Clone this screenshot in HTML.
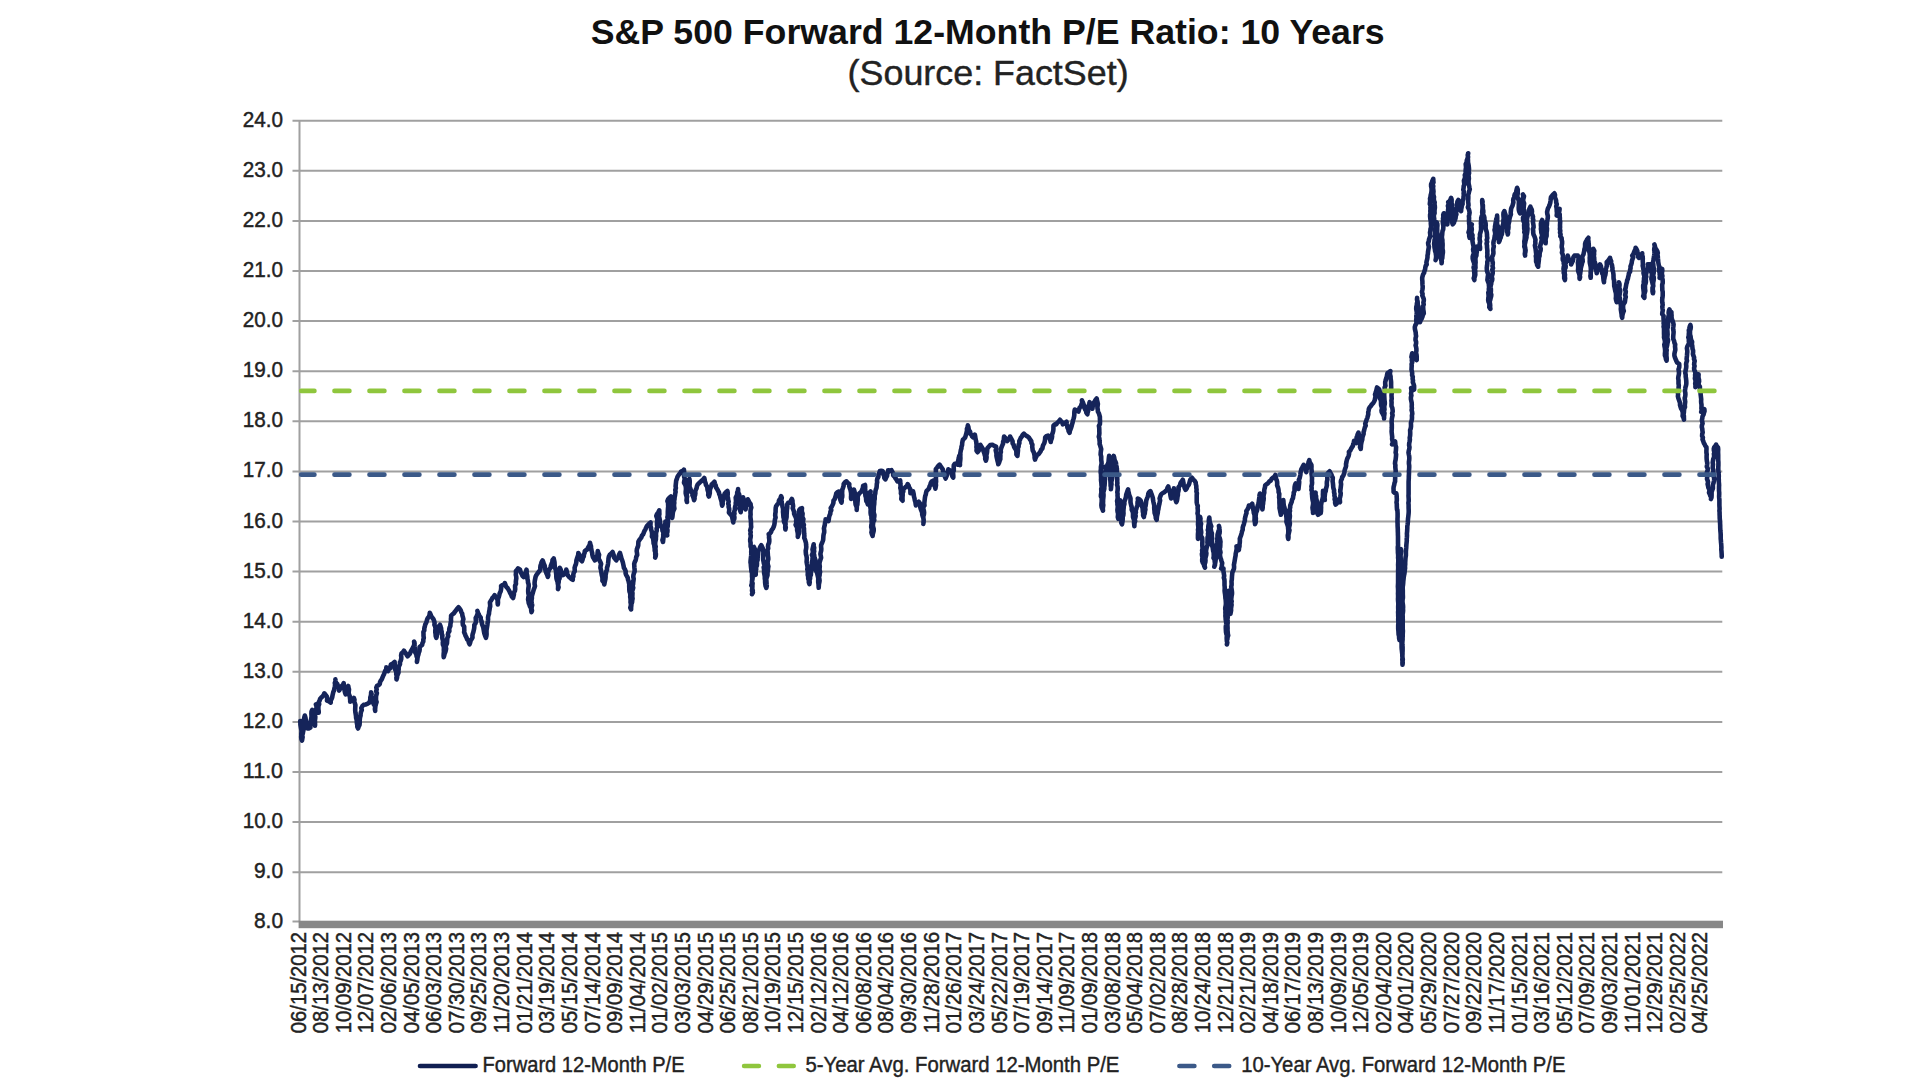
<!DOCTYPE html>
<html lang="en"><head><meta charset="utf-8"><title>S&amp;P 500 Forward 12-Month P/E Ratio: 10 Years</title>
<style>html,body{margin:0;padding:0;background:#fff}body{width:1920px;height:1080px;overflow:hidden}svg{display:block}text{font-family:"Liberation Sans",sans-serif;fill:#222}</style></head><body>
<svg width="1920" height="1080" viewBox="0 0 1920 1080">
<rect width="1920" height="1080" fill="#fff"/>
<text x="987.7" y="43.6" text-anchor="middle" font-size="35.6" font-weight="bold" textLength="794" lengthAdjust="spacingAndGlyphs" style="fill:#111">S&amp;P 500 Forward 12-Month P/E Ratio: 10 Years</text>
<text x="988.1" y="84.5" text-anchor="middle" font-size="35.3" textLength="281" lengthAdjust="spacingAndGlyphs" stroke="#222" stroke-width="0.4">(Source: FactSet)</text>
<g stroke="#a0a0a0" stroke-width="2" fill="none">
<line x1="292.5" y1="872.20" x2="1722.3" y2="872.20"/>
<line x1="292.5" y1="822.10" x2="1722.3" y2="822.10"/>
<line x1="292.5" y1="772.00" x2="1722.3" y2="772.00"/>
<line x1="292.5" y1="721.90" x2="1722.3" y2="721.90"/>
<line x1="292.5" y1="671.80" x2="1722.3" y2="671.80"/>
<line x1="292.5" y1="621.70" x2="1722.3" y2="621.70"/>
<line x1="292.5" y1="571.60" x2="1722.3" y2="571.60"/>
<line x1="292.5" y1="521.50" x2="1722.3" y2="521.50"/>
<line x1="292.5" y1="471.40" x2="1722.3" y2="471.40"/>
<line x1="292.5" y1="421.30" x2="1722.3" y2="421.30"/>
<line x1="292.5" y1="371.20" x2="1722.3" y2="371.20"/>
<line x1="292.5" y1="321.10" x2="1722.3" y2="321.10"/>
<line x1="292.5" y1="271.00" x2="1722.3" y2="271.00"/>
<line x1="292.5" y1="220.90" x2="1722.3" y2="220.90"/>
<line x1="292.5" y1="170.80" x2="1722.3" y2="170.80"/>
<line x1="292.5" y1="120.70" x2="1722.3" y2="120.70"/>
<line x1="292.5" y1="921.50" x2="300" y2="921.50"/>
<line x1="299.5" y1="119.90" x2="299.5" y2="921"/>
</g>
<rect x="298.6" y="920.7" width="1424.4" height="7.5" fill="#878787"/>
<g font-size="21.9" text-anchor="end" stroke="#222" stroke-width="0.45">
<text x="283.1" y="927.5" textLength="29.2" lengthAdjust="spacingAndGlyphs">8.0</text>
<text x="283.1" y="878.2" textLength="29.2" lengthAdjust="spacingAndGlyphs">9.0</text>
<text x="283.1" y="828.1" textLength="40.3" lengthAdjust="spacingAndGlyphs">10.0</text>
<text x="283.1" y="778.0" textLength="40.3" lengthAdjust="spacingAndGlyphs">11.0</text>
<text x="283.1" y="727.9" textLength="40.3" lengthAdjust="spacingAndGlyphs">12.0</text>
<text x="283.1" y="677.8" textLength="40.3" lengthAdjust="spacingAndGlyphs">13.0</text>
<text x="283.1" y="627.7" textLength="40.3" lengthAdjust="spacingAndGlyphs">14.0</text>
<text x="283.1" y="577.6" textLength="40.3" lengthAdjust="spacingAndGlyphs">15.0</text>
<text x="283.1" y="527.5" textLength="40.3" lengthAdjust="spacingAndGlyphs">16.0</text>
<text x="283.1" y="477.4" textLength="40.3" lengthAdjust="spacingAndGlyphs">17.0</text>
<text x="283.1" y="427.3" textLength="40.3" lengthAdjust="spacingAndGlyphs">18.0</text>
<text x="283.1" y="377.2" textLength="40.3" lengthAdjust="spacingAndGlyphs">19.0</text>
<text x="283.1" y="327.1" textLength="40.3" lengthAdjust="spacingAndGlyphs">20.0</text>
<text x="283.1" y="277.0" textLength="40.3" lengthAdjust="spacingAndGlyphs">21.0</text>
<text x="283.1" y="226.9" textLength="40.3" lengthAdjust="spacingAndGlyphs">22.0</text>
<text x="283.1" y="176.8" textLength="40.3" lengthAdjust="spacingAndGlyphs">23.0</text>
<text x="283.1" y="126.7" textLength="40.3" lengthAdjust="spacingAndGlyphs">24.0</text>
</g>
<g font-size="22.4" stroke="#222" stroke-width="0.45">
<text transform="translate(305.60,1033.2) rotate(-90)" textLength="101.3" lengthAdjust="spacingAndGlyphs">06/15/2012</text>
<text transform="translate(328.21,1033.2) rotate(-90)" textLength="101.3" lengthAdjust="spacingAndGlyphs">08/13/2012</text>
<text transform="translate(350.82,1033.2) rotate(-90)" textLength="101.3" lengthAdjust="spacingAndGlyphs">10/09/2012</text>
<text transform="translate(373.43,1033.2) rotate(-90)" textLength="101.3" lengthAdjust="spacingAndGlyphs">12/07/2012</text>
<text transform="translate(396.04,1033.2) rotate(-90)" textLength="101.3" lengthAdjust="spacingAndGlyphs">02/06/2013</text>
<text transform="translate(418.65,1033.2) rotate(-90)" textLength="101.3" lengthAdjust="spacingAndGlyphs">04/05/2013</text>
<text transform="translate(441.26,1033.2) rotate(-90)" textLength="101.3" lengthAdjust="spacingAndGlyphs">06/03/2013</text>
<text transform="translate(463.87,1033.2) rotate(-90)" textLength="101.3" lengthAdjust="spacingAndGlyphs">07/30/2013</text>
<text transform="translate(486.48,1033.2) rotate(-90)" textLength="101.3" lengthAdjust="spacingAndGlyphs">09/25/2013</text>
<text transform="translate(509.09,1033.2) rotate(-90)" textLength="101.3" lengthAdjust="spacingAndGlyphs">11/20/2013</text>
<text transform="translate(531.70,1033.2) rotate(-90)" textLength="101.3" lengthAdjust="spacingAndGlyphs">01/21/2014</text>
<text transform="translate(554.31,1033.2) rotate(-90)" textLength="101.3" lengthAdjust="spacingAndGlyphs">03/19/2014</text>
<text transform="translate(576.92,1033.2) rotate(-90)" textLength="101.3" lengthAdjust="spacingAndGlyphs">05/15/2014</text>
<text transform="translate(599.53,1033.2) rotate(-90)" textLength="101.3" lengthAdjust="spacingAndGlyphs">07/14/2014</text>
<text transform="translate(622.14,1033.2) rotate(-90)" textLength="101.3" lengthAdjust="spacingAndGlyphs">09/09/2014</text>
<text transform="translate(644.75,1033.2) rotate(-90)" textLength="101.3" lengthAdjust="spacingAndGlyphs">11/04/2014</text>
<text transform="translate(667.36,1033.2) rotate(-90)" textLength="101.3" lengthAdjust="spacingAndGlyphs">01/02/2015</text>
<text transform="translate(689.97,1033.2) rotate(-90)" textLength="101.3" lengthAdjust="spacingAndGlyphs">03/03/2015</text>
<text transform="translate(712.58,1033.2) rotate(-90)" textLength="101.3" lengthAdjust="spacingAndGlyphs">04/29/2015</text>
<text transform="translate(735.19,1033.2) rotate(-90)" textLength="101.3" lengthAdjust="spacingAndGlyphs">06/25/2015</text>
<text transform="translate(757.80,1033.2) rotate(-90)" textLength="101.3" lengthAdjust="spacingAndGlyphs">08/21/2015</text>
<text transform="translate(780.41,1033.2) rotate(-90)" textLength="101.3" lengthAdjust="spacingAndGlyphs">10/19/2015</text>
<text transform="translate(803.02,1033.2) rotate(-90)" textLength="101.3" lengthAdjust="spacingAndGlyphs">12/15/2015</text>
<text transform="translate(825.63,1033.2) rotate(-90)" textLength="101.3" lengthAdjust="spacingAndGlyphs">02/12/2016</text>
<text transform="translate(848.24,1033.2) rotate(-90)" textLength="101.3" lengthAdjust="spacingAndGlyphs">04/12/2016</text>
<text transform="translate(870.85,1033.2) rotate(-90)" textLength="101.3" lengthAdjust="spacingAndGlyphs">06/08/2016</text>
<text transform="translate(893.46,1033.2) rotate(-90)" textLength="101.3" lengthAdjust="spacingAndGlyphs">08/04/2016</text>
<text transform="translate(916.07,1033.2) rotate(-90)" textLength="101.3" lengthAdjust="spacingAndGlyphs">09/30/2016</text>
<text transform="translate(938.68,1033.2) rotate(-90)" textLength="101.3" lengthAdjust="spacingAndGlyphs">11/28/2016</text>
<text transform="translate(961.29,1033.2) rotate(-90)" textLength="101.3" lengthAdjust="spacingAndGlyphs">01/26/2017</text>
<text transform="translate(983.90,1033.2) rotate(-90)" textLength="101.3" lengthAdjust="spacingAndGlyphs">03/24/2017</text>
<text transform="translate(1006.51,1033.2) rotate(-90)" textLength="101.3" lengthAdjust="spacingAndGlyphs">05/22/2017</text>
<text transform="translate(1029.12,1033.2) rotate(-90)" textLength="101.3" lengthAdjust="spacingAndGlyphs">07/19/2017</text>
<text transform="translate(1051.73,1033.2) rotate(-90)" textLength="101.3" lengthAdjust="spacingAndGlyphs">09/14/2017</text>
<text transform="translate(1074.34,1033.2) rotate(-90)" textLength="101.3" lengthAdjust="spacingAndGlyphs">11/09/2017</text>
<text transform="translate(1096.95,1033.2) rotate(-90)" textLength="101.3" lengthAdjust="spacingAndGlyphs">01/09/2018</text>
<text transform="translate(1119.56,1033.2) rotate(-90)" textLength="101.3" lengthAdjust="spacingAndGlyphs">03/08/2018</text>
<text transform="translate(1142.17,1033.2) rotate(-90)" textLength="101.3" lengthAdjust="spacingAndGlyphs">05/04/2018</text>
<text transform="translate(1164.78,1033.2) rotate(-90)" textLength="101.3" lengthAdjust="spacingAndGlyphs">07/02/2018</text>
<text transform="translate(1187.39,1033.2) rotate(-90)" textLength="101.3" lengthAdjust="spacingAndGlyphs">08/28/2018</text>
<text transform="translate(1210.00,1033.2) rotate(-90)" textLength="101.3" lengthAdjust="spacingAndGlyphs">10/24/2018</text>
<text transform="translate(1232.61,1033.2) rotate(-90)" textLength="101.3" lengthAdjust="spacingAndGlyphs">12/21/2018</text>
<text transform="translate(1255.22,1033.2) rotate(-90)" textLength="101.3" lengthAdjust="spacingAndGlyphs">02/21/2019</text>
<text transform="translate(1277.83,1033.2) rotate(-90)" textLength="101.3" lengthAdjust="spacingAndGlyphs">04/18/2019</text>
<text transform="translate(1300.44,1033.2) rotate(-90)" textLength="101.3" lengthAdjust="spacingAndGlyphs">06/17/2019</text>
<text transform="translate(1323.05,1033.2) rotate(-90)" textLength="101.3" lengthAdjust="spacingAndGlyphs">08/13/2019</text>
<text transform="translate(1345.66,1033.2) rotate(-90)" textLength="101.3" lengthAdjust="spacingAndGlyphs">10/09/2019</text>
<text transform="translate(1368.27,1033.2) rotate(-90)" textLength="101.3" lengthAdjust="spacingAndGlyphs">12/05/2019</text>
<text transform="translate(1390.88,1033.2) rotate(-90)" textLength="101.3" lengthAdjust="spacingAndGlyphs">02/04/2020</text>
<text transform="translate(1413.49,1033.2) rotate(-90)" textLength="101.3" lengthAdjust="spacingAndGlyphs">04/01/2020</text>
<text transform="translate(1436.10,1033.2) rotate(-90)" textLength="101.3" lengthAdjust="spacingAndGlyphs">05/29/2020</text>
<text transform="translate(1458.71,1033.2) rotate(-90)" textLength="101.3" lengthAdjust="spacingAndGlyphs">07/27/2020</text>
<text transform="translate(1481.32,1033.2) rotate(-90)" textLength="101.3" lengthAdjust="spacingAndGlyphs">09/22/2020</text>
<text transform="translate(1503.93,1033.2) rotate(-90)" textLength="101.3" lengthAdjust="spacingAndGlyphs">11/17/2020</text>
<text transform="translate(1526.54,1033.2) rotate(-90)" textLength="101.3" lengthAdjust="spacingAndGlyphs">01/15/2021</text>
<text transform="translate(1549.15,1033.2) rotate(-90)" textLength="101.3" lengthAdjust="spacingAndGlyphs">03/16/2021</text>
<text transform="translate(1571.76,1033.2) rotate(-90)" textLength="101.3" lengthAdjust="spacingAndGlyphs">05/12/2021</text>
<text transform="translate(1594.37,1033.2) rotate(-90)" textLength="101.3" lengthAdjust="spacingAndGlyphs">07/09/2021</text>
<text transform="translate(1616.98,1033.2) rotate(-90)" textLength="101.3" lengthAdjust="spacingAndGlyphs">09/03/2021</text>
<text transform="translate(1639.59,1033.2) rotate(-90)" textLength="101.3" lengthAdjust="spacingAndGlyphs">11/01/2021</text>
<text transform="translate(1662.20,1033.2) rotate(-90)" textLength="101.3" lengthAdjust="spacingAndGlyphs">12/29/2021</text>
<text transform="translate(1684.81,1033.2) rotate(-90)" textLength="101.3" lengthAdjust="spacingAndGlyphs">02/25/2022</text>
<text transform="translate(1707.42,1033.2) rotate(-90)" textLength="101.3" lengthAdjust="spacingAndGlyphs">04/25/2022</text>
</g>
<path d="M300.2,721.1 300.4,722.9 300.4,724.7 300.7,726.4 301.0,728.2 301.4,729.9 301.5,731.7 301.3,733.5 301.3,735.3 301.2,737.1 301.4,738.9 302.0,740.6 302.3,738.8 302.6,737.0 302.2,735.2 302.8,733.5 303.1,731.7 303.5,729.9 303.1,728.1 302.8,726.2 302.9,724.4 303.1,722.6 303.6,720.9 303.9,719.1 304.4,717.4 304.8,715.6 305.4,717.4 305.7,719.3 305.9,721.1 306.5,722.9 306.4,724.9 306.7,726.8 307.6,728.5 309.1,728.4 310.4,727.6 310.4,725.8 310.4,724.0 310.5,722.3 310.8,720.5 311.2,718.8 311.5,717.0 311.5,715.3 311.4,713.5 311.5,711.7 312.2,710.0 312.1,711.8 312.8,713.5 313.0,715.3 313.2,717.0 314.1,718.7 314.3,720.4 314.1,722.3 315.1,723.9 315.0,725.7 315.0,723.9 315.0,722.1 314.9,720.4 315.2,718.6 315.3,716.8 314.9,715.0 315.4,713.3 315.7,711.5 316.0,709.7 316.5,708.0 316.5,706.2 315.9,704.4 316.4,706.1 317.4,707.6 317.7,709.4 318.4,711.0 318.7,712.8 318.7,711.1 318.4,709.3 318.4,707.6 318.5,705.8 319.2,704.1 318.7,702.4 319.6,700.7 320.1,699.0 321.2,697.6 322.6,696.4 323.7,695.0 324.3,693.3 325.6,694.9 326.9,696.6 327.2,698.5 327.0,700.7 329.0,701.4 330.7,702.6 330.7,700.7 331.5,699.0 332.2,697.3 332.5,695.5 332.9,693.7 333.3,692.0 334.1,690.3 334.4,688.5 334.8,686.7 335.1,684.9 334.8,683.0 335.6,681.3 335.4,679.4 335.6,681.1 336.1,682.7 337.3,684.1 337.9,685.7 338.1,687.4 339.2,688.8 339.1,690.6 340.0,689.1 341.2,687.7 341.7,686.0 343.1,684.8 343.7,683.1 343.8,685.0 344.2,686.8 344.5,688.7 344.6,690.6 345.0,692.5 345.6,694.3 346.5,692.7 346.8,691.0 347.1,689.2 348.0,687.7 348.3,685.9 348.5,687.7 349.0,689.4 348.8,691.2 348.6,693.0 349.1,694.7 349.8,696.4 350.0,698.2 350.2,699.9 350.2,701.7 351.4,700.4 352.9,699.5 353.9,698.0 354.5,699.7 354.2,701.6 354.9,703.3 355.4,705.1 355.3,706.9 355.2,708.8 355.2,710.6 355.4,712.4 355.7,714.2 356.0,716.0 356.1,717.8 356.6,719.6 356.8,721.4 356.9,723.2 357.3,725.0 357.3,726.8 358.1,728.5 358.6,726.7 359.5,724.9 359.7,723.0 359.7,721.1 359.8,719.3 360.0,717.4 360.6,715.6 360.6,713.7 361.0,711.9 361.8,710.1 361.3,708.1 362.3,706.2 363.7,704.8 365.9,704.4 367.8,703.6 369.6,702.6 370.0,700.9 370.3,699.2 370.3,697.5 370.8,695.8 371.1,694.1 371.1,692.4 371.6,694.0 371.2,695.9 371.6,697.6 372.3,699.2 372.8,700.9 373.2,702.5 373.7,704.2 374.9,705.7 375.3,707.4 375.1,709.2 375.2,710.9 374.9,709.1 375.1,707.3 375.6,705.5 376.0,703.8 376.6,702.0 376.0,700.2 376.0,698.4 376.0,696.6 376.4,694.8 376.9,693.1 376.1,691.2 376.7,689.5 376.3,687.6 377.0,685.9 378.5,685.2 379.8,684.1 380.0,682.3 380.8,680.6 381.9,679.1 382.5,677.4 383.2,675.8 384.0,674.2 384.6,672.5 385.2,670.8 386.3,669.3 386.3,667.4 386.9,669.4 388.1,671.1 388.7,669.4 390.3,668.2 390.4,666.3 390.9,664.6 392.3,663.9 393.5,662.9 394.6,661.9 394.7,663.7 394.7,665.4 394.9,667.2 394.9,668.9 395.7,670.6 396.4,672.3 396.2,674.1 396.7,675.8 397.1,677.6 396.5,679.4 396.4,677.6 397.2,676.0 397.8,674.3 398.5,672.7 398.4,670.9 398.7,669.1 398.6,667.4 399.2,665.7 400.0,664.1 399.9,662.3 400.7,660.7 401.2,659.0 401.3,657.2 401.1,655.4 401.5,653.5 402.9,652.2 403.9,650.7 404.9,652.1 405.9,653.4 406.7,654.9 407.6,656.3 408.6,655.0 409.9,653.8 410.5,652.2 411.3,650.7 412.2,649.0 413.2,647.2 414.0,645.5 414.3,643.6 414.1,641.5 414.6,643.3 414.5,645.2 414.7,647.1 415.0,648.9 414.8,650.9 415.3,652.7 416.3,654.4 416.6,656.3 417.4,658.1 417.1,660.0 416.9,661.9 417.3,660.1 417.5,658.2 417.8,656.3 418.4,654.5 418.8,652.6 419.5,650.8 419.7,648.9 419.6,647.0 420.8,646.0 422.1,645.0 422.4,643.3 423.3,641.5 423.3,639.6 423.8,637.8 423.5,635.9 423.5,634.0 423.4,632.0 424.3,630.3 424.3,628.4 424.8,626.6 425.2,624.7 426.1,623.0 426.7,621.3 427.1,619.5 427.9,617.9 429.1,616.4 429.6,614.6 429.8,612.8 430.6,614.5 431.3,616.3 432.3,617.8 433.5,619.3 434.2,621.1 434.6,622.9 434.4,624.8 435.2,626.6 435.5,628.5 435.3,630.4 435.3,632.3 435.6,634.1 435.7,636.0 436.3,637.8 436.8,636.2 436.9,634.5 436.9,632.7 437.4,631.1 438.3,629.6 438.6,627.9 438.9,626.2 440.0,624.8 440.5,626.6 441.1,628.3 441.2,630.1 441.7,631.9 441.6,633.7 442.4,635.5 442.2,637.3 442.5,639.1 443.1,640.9 442.8,642.7 442.9,644.5 443.7,646.3 443.9,648.1 443.8,649.9 443.9,651.7 443.7,653.6 443.6,655.4 443.7,657.2 444.2,655.5 444.6,653.7 445.3,652.0 445.8,650.3 446.1,648.5 445.6,646.6 446.2,644.9 447.0,643.2 447.1,641.4 447.2,639.6 447.4,637.8 448.3,636.2 447.9,634.4 448.3,632.7 449.4,631.1 449.2,629.3 449.6,627.6 450.4,626.0 450.4,624.3 450.7,622.6 451.1,620.9 450.9,619.1 451.1,617.4 451.1,615.6 452.4,614.4 453.8,613.4 454.8,611.9 456.0,610.3 457.2,608.7 458.5,607.2 459.7,608.7 460.7,610.3 461.3,612.1 462.2,613.7 462.4,615.6 463.0,617.4 463.4,619.2 462.7,621.2 462.7,623.1 462.9,624.9 464.2,626.7 464.2,628.5 464.3,630.4 464.1,632.3 465.0,634.1 465.6,635.9 466.5,637.5 467.1,639.3 468.5,640.7 468.8,642.6 469.6,644.3 470.2,642.6 470.5,640.8 471.5,639.2 472.5,637.6 472.4,635.7 472.7,633.9 473.3,632.2 473.7,630.4 474.1,628.7 474.3,626.9 474.3,625.0 475.4,623.4 476.0,621.7 475.8,619.8 475.7,617.9 476.7,616.3 477.3,614.6 478.1,612.9 477.4,610.9 477.8,612.7 478.8,614.2 479.4,615.9 480.7,617.4 480.7,619.3 481.4,620.9 481.8,622.6 482.1,624.3 482.8,626.0 483.3,627.6 483.6,629.4 483.9,631.1 484.2,632.8 484.7,634.5 485.3,636.2 485.9,637.8 486.4,636.0 486.6,634.1 486.5,632.2 486.5,630.4 486.8,628.5 487.1,626.7 487.4,624.8 487.6,623.0 487.9,621.1 488.1,619.3 488.0,617.4 488.4,615.6 489.0,613.8 489.1,611.9 489.5,610.1 489.7,608.2 490.2,606.3 490.1,604.4 489.9,602.4 490.9,600.7 491.8,599.3 492.5,597.8 493.7,596.6 494.6,595.2 495.6,596.9 496.9,598.5 497.7,600.3 497.6,602.4 497.8,604.4 498.0,602.5 497.9,600.6 498.1,598.7 498.8,596.9 499.3,595.1 499.7,593.3 500.6,591.5 501.0,589.7 501.2,587.8 501.1,585.9 502.5,585.1 504.0,584.6 504.8,583.1 505.5,584.9 506.1,586.6 507.5,588.0 508.5,589.6 509.5,591.3 510.2,593.1 511.2,594.7 511.8,596.5 513.1,598.0 513.5,596.2 513.9,594.5 513.9,592.6 514.9,590.9 515.2,589.2 515.1,587.3 515.1,585.5 516.0,583.8 515.8,582.0 516.0,580.2 516.3,578.4 516.2,576.6 515.8,574.7 516.0,572.9 515.9,571.1 517.1,569.8 518.1,568.3 520.0,569.6 520.4,571.2 521.0,572.8 521.8,574.2 522.4,575.8 523.7,577.0 524.6,575.2 525.3,573.4 526.0,571.5 526.5,569.6 526.7,571.4 526.6,573.3 527.1,575.1 527.4,577.0 527.4,578.8 527.9,580.7 528.0,582.5 528.6,584.3 528.7,586.2 528.4,588.1 528.2,590.0 528.2,591.8 528.4,593.7 528.9,595.5 528.3,597.4 528.1,599.4 528.5,601.2 528.7,603.1 529.5,604.9 530.1,606.7 531.1,608.4 531.2,610.3 531.5,612.2 532.0,610.5 531.5,608.7 531.7,606.9 532.2,605.2 531.8,603.4 531.5,601.6 531.6,599.8 531.9,598.1 531.8,596.3 532.3,594.6 532.8,592.9 533.3,591.2 533.8,589.4 534.5,587.7 535.0,586.0 534.6,584.2 534.6,582.4 534.8,580.7 535.2,578.7 535.6,576.8 536.4,575.0 537.6,573.3 538.5,572.1 539.6,570.9 540.4,569.6 540.3,567.6 540.5,565.7 541.1,563.9 541.6,562.1 542.6,560.4 543.3,562.2 543.9,564.1 544.7,565.8 545.0,567.8 545.3,569.7 545.8,571.6 546.5,573.4 547.3,575.1 547.8,577.0 548.3,575.1 548.0,573.0 548.5,571.2 549.3,569.4 550.6,567.8 550.8,565.8 551.5,564.0 552.3,562.2 552.5,560.2 553.7,558.5 554.1,560.3 554.5,562.2 554.6,564.1 554.7,565.9 555.0,567.8 555.7,569.6 556.0,571.4 556.1,573.3 556.3,575.1 556.3,576.8 556.5,578.6 557.0,580.3 557.6,582.0 557.8,583.8 558.2,585.5 558.6,587.2 558.0,589.1 558.1,587.3 558.1,585.5 558.3,583.8 558.7,582.0 558.7,580.2 559.6,578.5 559.5,576.7 559.9,575.0 559.9,573.2 560.3,571.4 559.5,569.6 559.8,567.8 560.7,569.6 561.3,571.5 561.8,573.4 562.6,575.2 564.2,574.2 565.0,572.8 566.2,571.5 566.3,569.6 566.8,571.5 567.2,573.5 567.9,575.3 569.1,577.0 570.4,577.9 571.5,579.0 572.8,579.8 572.7,578.0 573.4,576.4 573.3,574.6 573.7,572.9 574.7,571.3 574.7,569.6 574.6,567.8 575.1,566.0 575.9,564.2 576.3,562.3 576.4,560.4 577.0,558.6 577.6,556.8 578.2,555.0 578.3,553.0 579.3,554.6 579.4,556.5 579.8,558.3 580.7,559.9 582.0,561.3 582.6,559.6 582.9,557.9 583.8,556.3 583.9,554.5 584.6,552.9 584.8,551.1 586.1,550.1 587.6,549.3 588.0,547.6 588.9,546.1 589.8,544.6 590.0,542.8 590.4,544.5 591.0,546.2 591.0,547.9 591.4,549.6 591.7,551.3 592.2,553.0 592.4,555.0 592.9,557.0 593.9,558.7 595.0,560.4 596.3,558.8 596.7,556.8 597.4,555.0 597.6,553.1 597.8,551.1 598.2,552.9 599.1,554.7 598.7,556.7 598.7,558.6 599.5,560.4 600.4,562.1 601.1,563.9 600.6,565.9 600.4,567.8 600.9,569.6 601.2,571.5 601.5,573.3 601.8,575.1 602.3,577.0 602.5,578.8 602.4,580.7 603.8,582.3 604.3,584.4 604.6,582.6 605.0,580.7 605.4,578.9 605.6,577.0 605.6,575.1 606.0,573.3 606.2,571.4 607.0,569.7 607.0,567.8 607.6,566.0 608.0,564.1 608.2,562.2 608.4,560.3 608.5,558.4 608.9,556.6 609.8,554.8 611.3,553.5 612.6,552.0 613.2,553.7 613.8,555.5 614.0,557.4 615.1,558.9 616.3,560.4 617.0,558.9 618.6,557.8 618.6,556.0 619.2,554.4 620.0,553.0 620.5,554.9 621.0,556.7 621.5,558.6 622.2,560.4 622.8,562.2 623.2,564.1 623.6,565.9 623.9,567.8 625.0,569.5 625.7,571.3 625.6,573.3 626.1,574.9 627.0,576.4 627.8,577.9 628.0,579.6 628.6,581.1 628.9,582.8 629.3,584.4 629.2,586.2 629.3,588.0 629.3,589.8 629.5,591.6 630.2,593.3 630.3,595.1 630.2,596.9 630.5,598.7 630.6,600.5 630.5,602.3 630.9,604.0 630.8,605.8 630.3,607.7 631.1,609.4 631.1,607.6 631.3,605.8 631.4,604.0 632.1,602.2 632.2,600.4 632.6,598.6 632.3,596.8 632.4,595.0 632.5,593.2 632.0,591.3 632.7,589.6 633.2,587.8 632.6,585.9 633.1,584.1 633.2,582.3 633.5,580.5 633.7,578.7 633.3,576.9 633.4,575.1 633.9,573.3 634.6,571.5 634.6,569.6 634.4,567.7 634.3,565.8 634.2,563.9 634.7,562.1 635.6,560.4 636.0,558.5 636.3,556.7 637.2,554.9 637.0,553.0 636.7,551.1 636.9,549.2 637.6,547.4 638.2,545.6 638.3,543.7 638.4,541.7 639.4,540.0 640.4,538.7 641.4,537.3 641.9,535.6 643.1,534.4 643.8,532.7 644.4,531.0 645.4,529.4 646.1,527.7 646.9,526.1 648.1,524.8 649.3,523.5 650.6,522.4 650.5,524.2 650.4,526.0 651.0,527.7 651.1,529.5 651.7,531.2 652.0,532.9 652.1,534.7 651.9,536.5 653.0,538.1 653.3,539.9 653.5,541.6 653.6,543.4 654.3,545.1 654.4,546.9 654.7,548.7 654.7,550.5 655.2,552.2 655.9,553.9 655.8,555.7 655.2,557.6 655.4,555.8 655.2,554.0 655.6,552.2 655.6,550.4 655.4,548.5 655.7,546.7 655.2,544.9 655.2,543.1 655.4,541.3 655.9,539.5 655.9,537.7 656.1,535.9 656.0,534.0 656.2,532.2 656.8,530.4 656.6,528.6 657.4,526.8 657.0,525.0 657.0,523.2 657.1,521.4 657.4,519.6 656.9,517.7 656.3,515.9 657.0,514.1 658.3,512.4 659.3,510.4 659.3,512.3 659.4,514.1 658.9,516.1 659.4,517.9 659.8,519.7 659.9,521.6 660.3,523.4 660.2,525.3 661.7,527.0 662.3,528.8 662.5,530.7 663.6,532.5 663.2,534.4 663.3,536.2 663.0,538.1 662.4,540.1 663.0,541.9 663.2,540.0 663.4,538.2 663.4,536.3 663.4,534.4 663.5,532.6 664.1,530.7 664.4,528.9 664.6,527.1 664.8,525.2 665.4,523.4 665.4,521.5 665.5,523.3 665.8,525.0 665.8,526.7 666.1,528.5 666.8,530.2 666.5,532.0 666.6,533.7 667.2,535.4 666.9,533.6 667.4,531.8 667.5,530.0 667.0,528.2 667.7,526.4 667.8,524.6 668.0,522.8 668.0,521.0 667.9,519.2 667.4,517.3 667.8,515.5 667.8,513.7 667.8,511.9 667.9,510.1 668.0,508.3 668.2,506.5 668.1,504.7 668.1,502.9 667.4,501.1 668.1,499.3 669.4,497.8 670.9,496.5 670.8,498.3 670.5,500.1 670.9,501.8 671.1,503.6 670.7,505.4 671.1,507.2 671.1,509.0 670.8,510.8 671.1,512.5 671.0,514.3 671.5,516.1 672.2,517.8 672.5,516.0 672.7,514.1 672.9,512.2 673.5,510.4 674.4,508.7 674.1,506.7 674.0,504.9 674.3,503.0 674.1,501.1 674.5,499.3 674.6,497.4 675.0,495.6 675.2,493.7 675.6,491.9 675.3,489.9 675.9,488.1 675.6,486.2 675.8,484.3 676.0,482.5 676.2,480.6 676.9,478.8 677.4,477.0 678.3,475.6 679.2,474.2 680.3,472.9 681.1,471.5 682.8,471.0 683.9,469.6 684.1,471.5 684.2,473.3 684.0,475.2 684.2,477.1 684.9,478.9 684.3,480.8 684.0,482.7 685.1,484.5 685.7,486.3 685.9,488.0 685.9,489.8 685.7,491.6 685.7,493.3 686.1,495.0 686.7,496.8 686.7,498.5 686.5,500.3 687.0,502.0 686.8,500.2 686.8,498.4 687.1,496.6 686.7,494.8 687.1,493.0 687.3,491.3 687.8,489.5 687.9,487.7 687.9,485.9 688.1,484.2 688.5,482.4 688.5,480.6 689.4,478.9 689.7,480.8 689.7,482.6 689.6,484.6 689.5,486.5 690.2,488.3 690.8,490.1 691.3,491.9 692.6,493.3 692.4,495.2 693.2,496.8 693.7,498.5 694.1,500.2 694.6,498.5 694.5,496.7 695.1,495.0 695.4,493.2 695.2,491.4 695.8,489.7 696.6,488.1 696.9,486.3 697.7,484.4 699.2,483.1 700.6,481.7 701.9,480.5 703.2,479.4 704.3,478.0 704.7,479.7 704.9,481.5 705.6,483.1 705.9,484.8 707.0,486.3 707.4,488.0 707.5,489.7 708.1,491.4 708.4,493.1 708.2,494.9 708.9,496.5 709.4,494.8 709.8,493.1 709.8,491.2 710.0,489.5 710.6,487.8 711.3,486.1 711.7,484.4 713.1,483.1 714.4,481.7 714.9,483.6 715.7,485.4 716.0,487.4 717.2,489.1 718.0,490.7 718.9,492.2 719.2,494.0 720.0,495.6 720.3,497.3 720.8,499.0 721.3,500.6 721.7,502.3 721.8,504.0 722.2,505.7 722.7,504.0 722.6,502.2 723.1,500.5 723.6,498.8 723.6,497.1 724.2,495.4 724.6,493.7 725.9,492.2 727.4,490.9 727.7,492.7 727.7,494.5 727.5,496.3 728.0,498.1 728.2,499.9 728.7,501.6 728.2,503.5 728.7,505.2 728.6,507.0 729.2,508.8 729.2,510.6 728.9,512.5 730.2,514.1 731.6,515.5 732.2,517.1 732.5,518.9 733.0,520.6 733.3,522.4 733.3,520.6 734.3,518.9 734.4,517.2 734.0,515.3 734.5,513.6 734.2,511.8 734.8,510.1 734.9,508.3 735.2,506.5 735.8,504.8 735.7,503.0 736.0,501.3 735.9,499.5 735.7,497.6 736.6,496.0 737.2,494.3 737.2,492.5 737.9,490.9 738.1,489.1 738.1,490.9 738.2,492.7 739.2,494.4 739.4,496.2 739.2,498.0 739.1,499.8 739.1,501.6 740.2,503.3 740.2,505.1 740.2,506.9 739.5,508.7 740.2,510.5 740.7,512.2 740.9,510.3 741.2,508.5 741.8,506.7 741.9,504.8 742.6,503.0 742.6,501.1 742.9,499.3 743.1,497.4 743.6,499.1 743.9,500.8 744.5,502.5 745.3,504.1 745.1,505.9 745.3,507.7 745.6,509.4 745.8,507.7 746.3,506.0 747.0,504.4 747.0,502.6 747.3,501.0 747.8,499.3 748.6,500.9 749.4,502.5 750.6,503.9 750.7,505.7 751.3,507.4 750.7,509.2 750.5,511.0 750.5,512.7 750.6,514.5 750.4,516.3 750.5,518.0 750.8,519.8 750.9,521.6 751.0,523.3 751.0,525.1 751.2,526.9 750.7,528.6 750.2,530.4 750.7,532.2 750.4,533.9 750.8,535.7 750.6,537.5 750.2,539.3 750.2,541.1 750.6,542.8 750.6,544.6 750.6,546.4 751.2,548.1 751.4,549.9 751.2,551.7 751.3,553.5 751.2,555.2 751.0,557.0 750.8,558.8 750.6,560.6 750.5,562.4 750.8,564.1 750.9,565.9 751.1,567.7 751.3,569.4 751.4,571.2 752.0,573.0 752.0,574.8 752.0,576.5 752.2,578.3 752.1,580.1 751.9,581.9 751.9,583.6 751.3,585.4 752.3,587.2 752.3,589.0 752.8,590.7 752.4,592.5 752.0,594.3 752.9,592.5 752.0,590.7 752.2,588.8 752.4,587.0 752.4,585.2 752.6,583.4 751.9,581.5 752.4,579.7 752.6,577.9 752.7,576.1 752.6,574.3 752.9,572.5 752.8,570.6 753.0,568.8 752.9,567.0 752.3,565.2 752.6,563.3 752.8,561.5 753.3,559.7 753.1,557.9 753.2,556.1 753.6,554.3 753.7,552.5 754.2,550.7 754.8,548.9 753.9,547.0 754.3,548.8 755.0,550.7 754.6,552.5 754.2,554.4 754.0,556.3 754.0,558.2 754.5,560.0 754.9,561.8 754.7,563.7 755.2,565.5 755.9,567.3 756.2,569.2 755.3,571.1 754.8,573.0 755.7,574.8 755.7,572.9 755.7,571.0 756.1,569.2 756.1,567.3 756.9,565.5 757.0,563.7 756.9,561.8 757.6,560.0 757.6,558.1 757.9,556.3 758.1,554.4 758.2,552.5 758.5,550.7 759.5,548.9 760.2,547.0 761.3,545.2 762.1,547.0 762.9,548.8 763.2,550.6 763.4,552.5 763.3,554.3 763.3,556.2 763.1,558.1 763.2,560.0 763.6,561.8 763.9,563.6 764.7,565.4 763.7,567.4 764.0,569.2 764.1,571.1 764.1,573.0 764.5,574.8 764.8,576.7 764.8,578.6 765.1,580.4 765.1,582.3 765.3,584.2 765.6,586.0 766.3,587.8 766.8,586.0 766.6,584.2 766.5,582.4 766.4,580.6 766.2,578.8 766.9,577.1 767.5,575.3 767.5,573.5 767.6,571.7 768.0,569.9 768.1,568.2 768.4,566.4 767.8,564.6 767.6,562.7 767.8,561.0 768.3,559.2 768.2,557.4 767.9,555.6 767.8,553.8 767.7,552.0 767.5,550.2 768.2,548.4 768.0,546.6 768.2,544.8 769.0,543.1 769.3,541.3 769.3,539.5 769.0,537.7 769.1,535.9 768.7,534.1 770.1,533.2 771.1,532.0 771.5,530.4 772.8,528.7 773.7,526.8 774.3,524.8 774.6,523.0 774.7,521.1 775.0,519.3 775.6,517.5 775.2,515.5 775.3,513.7 775.6,511.9 775.6,510.0 775.7,508.1 776.1,506.3 777.3,504.5 778.7,502.9 778.9,500.7 779.8,499.3 780.6,497.7 781.1,496.1 781.8,497.8 781.3,499.7 781.5,501.4 781.8,503.2 782.3,504.9 782.5,506.7 783.0,508.5 783.1,510.3 783.0,512.1 783.2,513.8 783.3,515.6 783.5,517.4 784.0,519.1 783.8,520.9 784.3,522.5 785.2,524.2 785.4,525.9 785.8,527.6 785.4,529.4 785.2,527.6 785.3,525.8 785.6,524.0 785.4,522.2 785.6,520.4 786.3,518.7 786.6,516.9 786.6,515.1 786.7,513.3 786.8,511.6 786.9,509.8 787.2,508.0 787.3,506.2 787.2,504.4 788.2,502.8 790.0,502.6 790.9,500.7 791.9,498.9 792.5,500.7 792.5,502.6 792.9,504.4 793.1,506.3 792.7,508.2 793.4,510.0 794.1,511.8 794.1,513.7 794.8,515.5 795.7,517.2 796.3,519.0 796.1,521.0 796.4,522.8 795.6,524.8 796.5,526.4 797.2,528.1 797.1,529.9 797.5,531.6 797.8,533.3 797.9,535.1 797.8,536.9 798.3,535.1 799.0,533.4 799.2,531.6 799.1,529.8 799.1,528.0 799.6,526.2 799.9,524.4 799.6,522.6 799.6,520.8 799.6,519.0 799.5,517.2 799.3,515.4 798.9,513.6 798.9,511.8 799.3,510.0 800.4,508.6 802.0,508.1 801.8,510.0 801.9,511.9 802.6,513.7 802.4,515.6 802.4,517.4 803.4,519.2 803.0,521.1 803.0,523.0 803.9,524.8 803.4,526.7 804.0,528.5 804.0,530.4 804.1,532.2 804.2,534.1 804.4,535.9 804.2,537.8 805.0,539.6 805.5,541.4 806.0,543.2 806.1,545.1 806.3,546.9 806.1,548.8 805.7,550.7 805.8,552.6 806.0,554.4 806.5,556.2 806.8,558.1 806.7,560.0 806.6,561.9 806.9,563.7 807.3,565.6 807.6,567.4 807.3,569.3 807.8,571.1 807.8,573.0 807.7,574.9 808.2,576.7 808.2,578.6 808.9,580.4 808.8,582.3 809.4,584.1 809.7,582.3 809.5,580.3 810.1,578.5 810.1,576.6 810.9,574.8 810.9,572.9 811.3,571.1 811.4,569.3 811.7,567.5 811.7,565.7 812.0,564.0 811.9,562.2 812.4,560.4 812.5,558.6 812.7,556.8 811.9,554.9 812.7,553.2 812.9,551.4 812.5,549.6 812.9,547.8 813.3,546.1 813.7,544.3 813.6,546.1 814.2,547.8 813.9,549.6 814.2,551.4 813.7,553.2 814.2,555.0 814.3,556.7 814.8,558.5 815.5,560.2 815.3,562.0 815.9,563.7 815.8,565.6 815.6,567.5 815.7,569.4 816.3,571.2 817.1,572.9 817.5,574.8 817.9,576.6 818.3,578.5 818.2,580.3 818.2,582.2 818.5,584.1 818.6,585.9 818.7,587.8 818.8,586.0 818.9,584.3 819.3,582.5 819.6,580.7 819.4,578.9 819.0,577.1 819.6,575.4 819.7,573.6 820.1,571.9 819.6,570.1 819.6,568.3 819.8,566.5 819.5,564.7 819.5,562.9 820.0,561.2 820.5,559.4 821.1,557.7 820.8,555.9 820.4,554.1 820.7,552.3 821.2,550.6 821.3,548.8 821.1,547.0 821.1,545.1 821.9,543.3 822.6,541.5 823.2,539.7 823.3,537.8 823.4,535.9 823.7,534.1 824.2,532.3 824.2,530.4 823.9,528.5 824.3,526.7 824.8,524.8 825.0,523.0 825.6,521.2 825.6,519.3 827.2,520.0 828.5,521.1 828.8,519.2 829.0,517.4 829.5,515.5 830.3,513.8 830.4,511.9 831.3,510.1 830.7,508.1 831.9,506.4 832.7,504.6 833.4,502.8 833.5,500.7 834.7,499.1 835.3,497.1 835.9,495.2 836.3,493.3 837.5,492.1 839.1,491.5 839.3,493.4 839.4,495.3 839.7,497.2 840.1,499.0 840.7,500.8 841.5,502.6 841.8,500.8 841.5,498.9 842.2,497.1 842.3,495.2 842.1,493.3 842.2,491.4 842.3,489.6 843.0,487.8 843.6,486.0 843.7,484.1 844.8,482.4 846.5,481.3 847.7,482.9 849.3,484.1 849.2,486.0 849.7,487.8 850.4,489.6 850.8,491.4 851.1,493.3 851.1,495.2 851.3,497.0 851.1,498.9 851.0,496.8 851.8,495.1 852.0,493.1 853.0,491.4 853.9,489.6 854.5,491.4 854.9,493.2 855.3,495.1 855.6,496.9 855.3,498.9 855.3,500.8 855.4,502.6 855.6,504.5 856.4,506.3 856.8,508.1 856.7,510.0 856.8,508.1 856.8,506.2 857.4,504.4 857.5,502.5 857.7,500.6 857.8,498.7 857.6,496.8 858.3,495.0 859.4,493.3 860.7,492.3 861.6,491.1 862.2,489.6 862.9,487.9 863.1,485.9 865.0,485.0 865.2,486.8 865.1,488.6 865.3,490.4 865.4,492.1 865.3,494.0 865.4,495.7 866.0,497.5 866.1,499.2 866.3,501.0 867.3,502.7 867.8,504.4 868.1,502.5 868.0,500.6 868.5,498.8 869.2,497.0 869.3,495.1 869.2,493.1 870.6,491.5 870.3,493.3 870.3,495.1 870.0,496.9 870.7,498.6 870.5,500.4 870.0,502.2 869.7,504.0 870.1,505.8 870.4,507.5 870.7,509.3 870.6,511.1 870.6,512.9 870.8,514.6 871.5,516.4 871.4,518.2 871.7,519.9 871.6,521.7 871.7,523.5 871.3,525.3 871.2,527.1 871.7,528.8 871.8,530.6 871.4,532.4 871.9,534.2 872.6,535.9 872.8,534.2 873.3,532.4 873.7,530.7 873.7,528.9 873.2,527.1 872.9,525.4 873.1,523.6 873.3,521.9 874.3,520.2 873.9,518.4 874.3,516.7 874.4,514.9 873.8,513.1 873.6,511.4 873.8,509.6 873.8,507.8 873.9,506.1 874.2,504.4 874.3,502.6 874.3,500.7 874.7,498.9 874.7,497.0 874.8,495.2 875.3,493.3 875.4,491.5 875.8,489.6 876.5,487.9 876.7,486.0 876.8,484.1 877.2,482.3 877.0,480.4 877.4,478.5 878.4,476.8 878.5,474.8 879.3,473.0 879.8,471.1 881.2,470.9 882.6,471.1 883.4,472.7 883.4,474.5 884.3,476.1 884.3,477.9 885.4,479.4 886.1,477.6 887.1,475.9 887.2,473.9 888.1,472.2 888.1,470.2 889.8,470.7 891.5,470.2 892.3,471.8 893.1,473.4 893.2,475.4 894.6,476.7 895.5,478.3 896.5,479.7 897.4,481.3 898.7,480.7 900.2,480.4 900.3,482.3 900.4,484.1 900.6,486.0 900.3,487.9 900.8,489.7 901.0,491.5 900.9,493.4 901.6,495.2 901.5,497.1 901.3,499.0 902.6,500.7 902.5,498.8 902.5,496.9 902.7,495.0 902.6,493.1 903.3,491.3 903.2,489.4 904.8,487.8 905.9,486.7 907.1,485.7 907.6,484.1 908.7,485.8 909.2,487.6 910.3,489.3 910.4,491.3 910.4,493.3 911.6,492.2 913.1,491.5 913.5,493.2 913.8,495.0 914.0,496.7 914.5,498.4 914.8,500.2 915.4,501.9 915.6,503.6 915.9,505.4 916.5,503.9 917.5,502.8 918.7,501.7 919.9,503.4 920.4,505.2 920.3,507.3 920.8,509.1 921.5,510.9 922.2,512.7 922.2,514.6 922.8,516.4 923.4,518.2 923.7,520.1 923.5,522.0 923.3,523.9 923.6,522.1 923.6,520.2 923.4,518.3 923.3,516.4 923.9,514.6 924.1,512.8 923.9,510.9 923.4,509.0 923.3,507.1 924.5,505.4 924.3,503.5 924.5,501.6 924.7,499.8 924.9,497.9 925.2,496.1 925.8,494.4 926.1,492.6 926.6,490.9 928.0,489.6 929.2,488.2 929.5,486.4 930.4,484.9 930.7,483.1 931.7,481.4 933.5,480.4 934.0,482.0 934.2,483.7 934.3,485.5 935.1,487.0 935.4,488.7 935.7,486.9 936.0,485.2 935.8,483.4 936.1,481.6 936.0,479.8 935.9,478.0 936.1,476.2 935.5,474.4 935.8,472.6 935.9,470.9 935.8,469.1 937.2,467.4 938.3,465.9 939.6,464.6 940.5,466.3 941.7,467.8 942.8,469.3 943.0,471.3 944.0,473.0 944.9,474.7 944.9,476.7 945.6,478.5 946.3,476.7 947.1,474.9 947.3,473.0 948.0,471.2 948.3,469.3 949.7,470.3 951.1,471.1 951.5,472.8 952.0,474.4 952.3,476.1 953.3,477.6 953.3,475.8 953.2,474.1 953.0,472.3 953.8,470.6 953.8,468.9 953.7,467.1 953.8,465.3 954.8,463.7 956.2,464.0 957.6,464.6 957.7,462.8 958.1,461.1 958.5,459.4 958.9,457.6 959.2,455.9 960.4,454.4 960.3,456.2 960.4,458.0 960.3,459.8 960.1,461.6 959.9,463.4 960.0,465.2 959.5,463.3 959.6,461.4 959.7,459.6 960.3,457.8 960.1,455.9 960.2,454.0 960.5,452.2 960.8,450.3 961.4,448.5 961.5,446.7 962.1,444.9 962.2,443.0 962.5,441.4 962.9,439.7 964.1,438.6 965.2,437.4 965.7,435.7 966.2,434.0 966.6,432.3 967.0,430.6 966.9,428.8 967.6,427.2 967.8,425.4 968.4,427.0 968.6,428.8 969.1,430.4 970.2,431.9 970.2,433.7 971.5,434.7 972.0,436.2 973.0,437.4 973.9,436.0 974.8,434.6 975.2,436.3 975.4,438.1 975.8,439.9 976.2,441.6 976.4,443.4 976.6,445.1 976.4,447.0 976.7,448.7 976.5,450.6 977.6,452.2 978.8,450.6 979.9,448.9 980.8,447.1 980.4,444.8 981.3,446.4 982.1,447.9 983.1,449.4 983.6,451.3 984.3,453.1 984.7,454.9 985.3,456.8 985.2,458.8 985.9,460.6 986.4,458.9 986.6,457.1 986.3,455.3 986.8,453.5 987.1,451.8 987.2,450.0 987.4,448.2 988.7,446.7 990.2,445.1 992.4,444.8 994.2,445.9 996.1,446.7 996.3,448.5 995.7,450.3 996.1,452.1 996.5,453.8 996.4,455.6 996.7,457.3 997.1,459.1 997.5,460.8 998.0,462.5 998.3,464.3 999.1,462.6 999.6,460.9 1000.3,459.2 1000.3,457.4 1000.4,455.6 1000.3,453.8 1000.9,452.1 1000.7,450.2 1001.1,448.5 1001.7,446.8 1002.4,445.2 1003.1,443.5 1003.1,441.7 1003.8,440.1 1003.9,438.3 1004.1,436.5 1005.3,437.9 1006.6,439.3 1007.2,441.1 1008.4,439.7 1009.7,438.4 1010.0,436.5 1010.9,438.1 1011.8,439.7 1012.6,441.3 1012.6,443.3 1013.7,444.8 1014.0,446.5 1014.7,448.0 1015.7,449.4 1016.3,451.0 1016.4,452.7 1016.4,454.5 1017.4,455.9 1017.6,454.0 1017.8,452.2 1018.0,450.3 1017.8,448.4 1018.6,446.6 1018.7,444.7 1019.4,443.0 1019.3,441.0 1020.2,439.3 1020.8,437.7 1021.9,436.4 1022.7,434.9 1023.9,433.7 1025.0,434.8 1026.3,435.7 1027.6,436.5 1029.1,437.8 1030.1,439.5 1031.3,441.1 1031.4,443.0 1032.4,444.7 1032.2,446.7 1032.5,448.6 1032.7,450.4 1033.7,452.2 1034.2,454.0 1034.6,455.8 1034.6,457.8 1035.0,459.6 1035.6,458.0 1036.4,456.5 1036.9,454.9 1038.7,454.1 1039.6,452.7 1040.6,451.3 1041.1,449.7 1042.4,448.5 1042.7,446.6 1043.3,444.8 1044.3,443.1 1044.8,441.2 1045.1,439.3 1045.2,437.4 1046.4,436.2 1048.0,435.6 1048.9,437.1 1049.7,438.6 1050.3,440.3 1050.7,442.0 1051.0,440.2 1051.8,438.4 1052.1,436.5 1052.0,434.6 1052.7,432.9 1053.2,431.0 1053.4,429.2 1053.4,427.3 1053.5,425.4 1054.7,424.4 1056.3,424.4 1057.3,422.7 1058.8,421.4 1060.0,419.8 1061.1,421.2 1062.3,422.6 1062.8,424.4 1064.1,423.5 1065.3,422.7 1066.5,421.7 1066.8,423.6 1067.2,425.5 1067.4,427.4 1068.3,429.2 1068.6,431.1 1069.6,432.8 1069.8,431.0 1070.5,429.4 1071.1,427.8 1071.6,426.1 1072.0,424.4 1072.6,422.6 1072.9,420.7 1073.5,418.9 1074.0,417.1 1074.3,415.2 1074.3,413.3 1074.4,411.4 1074.8,409.6 1076.7,410.4 1078.5,411.5 1079.0,409.6 1079.6,407.8 1081.0,406.2 1081.5,404.3 1082.2,402.5 1081.9,400.4 1082.8,402.2 1083.5,404.0 1084.2,405.8 1084.4,407.8 1085.1,409.4 1086.1,410.9 1086.4,412.8 1087.4,414.3 1087.6,412.5 1088.2,410.9 1087.8,409.0 1088.3,407.3 1088.7,405.6 1089.2,403.9 1089.6,402.2 1090.1,403.9 1090.8,405.5 1091.5,407.2 1092.4,408.7 1092.6,406.8 1093.3,405.1 1093.5,403.1 1094.6,401.6 1095.5,400.0 1096.7,398.5 1097.0,400.3 1097.5,402.2 1097.9,404.0 1097.6,405.9 1097.4,407.8 1097.8,409.7 1097.9,411.6 1098.9,413.3 1099.4,415.1 1099.9,416.9 1099.9,418.7 1100.0,420.5 1100.0,422.3 1099.9,424.1 1098.9,425.9 1099.2,427.7 1099.3,429.5 1099.3,431.3 1099.4,433.1 1099.2,434.9 1098.8,436.7 1099.4,438.5 1099.5,440.3 1099.7,442.1 1099.6,443.9 1100.2,445.6 1100.7,447.4 1101.2,449.2 1100.9,451.0 1100.7,452.8 1100.6,454.6 1101.2,456.4 1101.2,458.2 1101.2,460.0 1101.5,461.8 1101.6,463.6 1101.2,465.4 1100.9,467.2 1100.9,469.0 1100.7,470.8 1100.7,472.6 1101.0,474.4 1101.0,476.2 1101.1,478.0 1101.0,479.8 1101.2,481.7 1101.4,483.5 1101.5,485.3 1101.8,487.1 1101.2,488.9 1101.3,490.7 1101.4,492.5 1101.0,494.4 1100.9,496.2 1101.7,498.0 1101.7,499.8 1101.7,501.6 1101.5,503.4 1101.4,505.2 1101.6,507.1 1102.3,508.8 1103.0,510.6 1102.8,508.8 1103.0,507.0 1103.3,505.2 1103.0,503.3 1103.1,501.5 1103.1,499.7 1103.3,497.9 1103.5,496.1 1103.5,494.2 1103.3,492.4 1103.8,490.6 1104.3,488.8 1104.3,487.0 1104.6,485.2 1104.7,483.4 1104.8,481.6 1104.9,479.7 1104.6,477.9 1104.8,476.1 1105.1,474.3 1104.8,472.5 1105.4,470.7 1105.9,468.9 1104.8,467.0 1106.3,466.5 1107.2,465.2 1108.1,463.5 1108.6,461.6 1108.7,459.7 1108.9,457.8 1109.1,455.9 1109.4,457.6 1109.4,459.4 1109.5,461.2 1109.4,462.9 1110.1,464.7 1109.4,466.5 1108.9,468.3 1109.2,470.0 1109.2,471.8 1109.4,473.5 1109.5,475.3 1109.8,477.0 1110.0,478.8 1110.4,480.5 1110.5,482.3 1110.6,484.0 1110.6,485.8 1111.0,487.5 1110.9,489.3 1111.1,487.5 1111.2,485.8 1111.5,484.0 1111.3,482.3 1111.6,480.5 1112.1,478.8 1112.3,477.0 1112.3,475.3 1112.2,473.5 1112.3,471.7 1112.7,470.0 1113.2,468.3 1113.2,466.5 1113.1,464.7 1113.3,462.9 1113.5,461.2 1113.3,459.4 1113.3,457.6 1113.7,455.9 1114.2,457.7 1114.5,459.6 1115.3,461.4 1116.0,463.2 1116.2,465.1 1116.5,467.0 1116.9,468.8 1116.9,470.6 1116.8,472.4 1116.8,474.2 1117.2,475.9 1117.2,477.7 1117.3,479.5 1117.2,481.3 1117.4,483.1 1117.1,484.9 1117.6,486.7 1117.7,488.5 1117.6,490.3 1117.3,492.1 1117.6,493.8 1117.5,495.6 1117.7,497.4 1117.5,499.2 1117.1,501.0 1117.4,502.8 1117.4,504.6 1117.8,506.4 1117.6,508.2 1117.4,510.0 1117.6,511.8 1118.1,513.5 1118.0,515.3 1117.8,517.1 1118.3,518.9 1118.8,517.1 1119.2,515.2 1118.7,513.3 1118.7,511.5 1119.4,509.7 1119.2,507.8 1119.8,506.0 1120.5,504.2 1120.7,502.3 1120.2,500.4 1120.0,502.3 1120.3,504.1 1120.8,505.9 1121.0,507.8 1121.1,509.6 1121.2,511.5 1121.1,513.3 1121.3,515.2 1121.4,517.0 1121.4,518.9 1121.6,520.7 1121.2,522.6 1122.0,524.4 1122.3,522.6 1122.6,520.7 1122.7,518.9 1122.7,517.0 1123.3,515.2 1123.5,513.4 1123.4,511.5 1123.5,509.6 1123.7,507.8 1123.8,505.9 1124.4,504.1 1124.3,502.2 1124.8,500.4 1125.5,498.6 1126.0,496.7 1126.2,494.8 1126.8,493.0 1127.4,491.1 1128.1,489.3 1128.3,491.2 1128.8,493.0 1129.1,494.8 1129.9,496.6 1130.5,498.4 1130.5,500.3 1130.5,502.2 1130.9,504.1 1131.3,505.9 1131.8,507.7 1131.7,509.6 1132.6,511.4 1133.0,513.2 1133.0,515.1 1133.0,517.0 1133.6,518.8 1134.3,520.6 1134.0,522.6 1134.2,524.4 1134.4,526.3 1134.4,524.5 1134.6,522.8 1135.2,521.1 1134.6,519.3 1135.3,517.6 1135.7,515.9 1135.3,514.1 1135.9,512.4 1135.6,510.6 1136.3,508.9 1136.7,507.2 1137.6,505.5 1137.5,503.7 1137.6,502.0 1138.1,500.3 1137.8,498.5 1139.3,499.3 1140.6,500.4 1141.2,502.2 1141.6,504.0 1141.9,505.9 1142.5,507.7 1142.7,509.6 1142.8,511.5 1143.2,513.3 1143.1,515.2 1143.9,517.0 1144.1,515.1 1144.8,513.3 1144.9,511.5 1145.4,509.6 1145.1,507.7 1145.6,505.9 1145.9,504.0 1146.1,502.1 1146.3,500.3 1147.0,498.5 1147.6,497.0 1148.1,495.4 1148.3,493.7 1149.0,492.2 1150.4,491.1 1151.1,492.9 1151.7,494.7 1152.4,496.5 1152.9,498.4 1153.1,500.3 1153.5,502.2 1153.9,503.9 1154.3,505.7 1154.2,507.5 1154.3,509.3 1154.5,511.1 1154.6,512.9 1155.2,514.6 1155.7,516.3 1155.8,518.2 1156.7,519.8 1156.8,518.0 1157.0,516.2 1157.4,514.5 1157.8,512.7 1157.9,510.9 1158.4,509.2 1158.6,507.4 1159.0,505.6 1159.4,503.9 1159.7,502.1 1160.1,500.4 1159.6,498.5 1160.1,497.0 1160.7,495.4 1161.4,494.0 1162.8,493.0 1164.3,492.2 1165.6,491.1 1166.9,489.8 1167.4,488.0 1168.3,486.5 1168.6,488.2 1169.3,489.9 1169.8,491.6 1170.2,493.3 1170.4,495.1 1170.7,496.8 1171.1,498.5 1171.9,496.9 1172.0,495.1 1172.7,493.5 1173.4,491.8 1173.8,490.1 1173.9,488.3 1174.1,490.1 1174.6,491.8 1175.1,493.5 1175.5,495.2 1175.9,496.9 1175.3,498.8 1175.8,500.5 1176.3,502.2 1177.0,500.4 1177.3,498.6 1177.5,496.7 1177.9,494.9 1177.9,493.0 1178.4,491.2 1178.7,489.3 1178.5,487.4 1180.0,485.2 1180.5,483.1 1181.7,481.4 1182.8,479.6 1183.1,481.3 1183.5,483.1 1183.6,484.9 1184.3,486.5 1184.7,488.2 1185.6,489.8 1186.7,488.3 1187.4,486.5 1188.6,485.1 1189.3,483.3 1189.8,481.3 1190.5,479.3 1192.0,477.8 1193.1,479.4 1194.6,480.7 1195.7,482.4 1195.8,484.2 1196.3,486.0 1196.3,487.9 1196.6,489.7 1196.4,491.5 1196.9,493.3 1196.7,495.1 1196.7,497.0 1196.7,498.8 1196.7,500.6 1196.7,502.4 1197.1,504.3 1197.8,506.0 1197.6,507.9 1197.8,509.7 1197.8,511.5 1197.5,513.4 1198.0,515.2 1198.1,517.0 1198.1,518.8 1198.3,520.6 1198.1,522.5 1198.0,524.3 1198.2,526.1 1198.4,527.9 1198.0,529.8 1198.2,531.6 1198.0,533.4 1197.9,535.3 1198.5,537.1 1198.0,538.9 1197.9,537.0 1198.1,535.2 1198.4,533.3 1198.8,531.5 1199.2,529.7 1199.6,527.9 1199.5,526.0 1199.5,524.1 1199.9,522.3 1199.8,520.4 1200.3,518.6 1200.0,516.7 1200.5,518.5 1200.3,520.2 1200.4,522.0 1201.1,523.8 1200.7,525.6 1200.6,527.4 1200.7,529.1 1201.1,530.9 1201.2,532.7 1200.8,534.5 1201.1,536.2 1202.2,538.0 1202.3,539.7 1202.4,541.5 1202.3,543.3 1202.3,545.1 1202.4,546.8 1202.6,548.6 1202.1,550.4 1202.5,552.2 1201.9,554.0 1202.1,555.8 1202.5,557.5 1202.2,559.3 1202.2,561.1 1202.8,562.8 1203.8,564.3 1204.2,566.0 1205.0,567.6 1204.6,565.8 1204.7,564.0 1205.3,562.2 1205.5,560.4 1205.3,558.6 1205.7,556.9 1206.2,555.1 1206.4,553.3 1206.0,551.5 1206.2,549.7 1206.6,547.9 1207.1,546.2 1207.8,544.4 1207.4,542.6 1207.5,540.8 1207.5,539.0 1207.6,537.2 1208.2,535.5 1208.0,533.7 1208.5,531.9 1207.8,530.1 1208.3,528.3 1208.3,526.5 1208.6,524.7 1209.0,523.0 1208.8,521.2 1208.9,519.4 1209.3,517.6 1209.5,519.4 1209.6,521.2 1210.1,522.9 1210.6,524.6 1211.3,526.3 1210.6,528.2 1210.9,529.9 1211.2,531.7 1211.9,533.4 1211.8,535.2 1211.9,537.0 1212.2,538.7 1211.9,540.5 1211.9,542.3 1212.1,544.0 1212.1,545.8 1212.7,547.5 1212.9,549.2 1213.2,551.0 1213.7,552.7 1213.7,554.4 1213.8,556.2 1213.5,558.0 1214.6,559.6 1214.7,561.4 1214.9,563.1 1215.0,564.9 1214.3,566.7 1214.8,564.9 1215.2,563.0 1215.5,561.2 1215.7,559.3 1216.2,557.4 1216.6,555.6 1216.7,553.7 1216.3,551.8 1216.5,550.0 1216.4,548.1 1216.3,546.2 1216.7,544.4 1217.1,542.5 1217.4,540.7 1217.3,538.8 1217.5,537.0 1217.5,535.1 1217.9,533.3 1218.4,531.5 1219.0,529.6 1219.4,527.8 1218.9,525.9 1219.2,527.7 1219.4,529.4 1219.7,531.2 1219.6,533.0 1219.0,534.8 1219.0,536.6 1219.8,538.3 1220.2,540.1 1220.5,541.8 1220.3,543.6 1220.3,545.4 1220.2,547.2 1219.7,549.0 1220.2,550.8 1220.5,552.5 1220.0,554.3 1220.1,556.1 1220.5,557.9 1221.1,559.6 1221.6,561.4 1222.2,563.1 1221.9,564.9 1221.8,566.7 1221.1,568.5 1223.5,568.5 1223.3,570.4 1223.6,572.2 1223.9,574.0 1224.2,575.9 1223.8,577.8 1224.4,579.6 1224.5,581.4 1224.5,583.3 1224.5,585.2 1224.7,587.0 1224.7,588.9 1224.6,590.7 1224.8,592.6 1225.1,594.4 1225.3,596.2 1225.4,598.1 1225.7,599.9 1225.8,601.7 1225.9,603.4 1225.8,605.2 1225.4,607.0 1225.2,608.8 1225.5,610.6 1225.4,612.4 1225.5,614.1 1225.4,615.9 1225.6,617.7 1225.7,619.5 1226.0,621.3 1226.3,623.0 1226.1,624.8 1225.8,626.6 1225.8,628.4 1225.9,630.2 1226.0,632.0 1226.3,633.7 1226.9,635.5 1226.7,637.3 1226.7,639.1 1226.9,640.8 1227.2,642.6 1226.9,644.4 1227.3,642.6 1226.8,640.8 1227.4,639.0 1227.5,637.3 1228.2,635.5 1227.8,633.7 1227.7,631.9 1227.5,630.1 1227.6,628.3 1227.5,626.5 1227.4,624.7 1227.7,622.9 1227.5,621.1 1227.4,619.3 1227.7,617.6 1227.6,615.8 1227.6,614.0 1227.8,612.2 1227.7,610.4 1227.5,608.6 1227.6,606.8 1227.7,605.0 1228.3,603.2 1228.0,601.4 1228.4,599.7 1228.2,597.9 1228.2,596.1 1228.2,594.3 1228.3,592.5 1228.5,590.7 1228.4,592.5 1228.1,594.3 1228.6,596.1 1228.4,597.9 1228.4,599.7 1228.5,601.5 1229.1,603.2 1229.1,605.0 1229.4,606.8 1229.5,608.6 1229.8,610.4 1229.9,612.1 1230.4,613.9 1230.8,612.1 1231.1,610.3 1231.0,608.5 1231.3,606.7 1231.6,604.9 1231.3,603.1 1231.7,601.3 1231.2,599.5 1231.4,597.7 1231.6,595.9 1232.0,594.1 1232.0,592.3 1231.8,590.5 1231.5,588.6 1231.2,586.8 1231.6,585.0 1231.6,583.2 1231.5,581.4 1231.8,579.6 1231.9,577.8 1232.0,575.9 1232.2,574.0 1232.4,572.2 1233.3,570.4 1234.0,568.6 1234.1,566.7 1233.9,564.8 1234.3,563.0 1234.6,561.1 1234.9,559.3 1235.2,557.4 1235.6,555.6 1235.7,553.7 1236.1,551.9 1236.5,550.1 1236.7,548.2 1236.5,546.3 1237.8,548.1 1238.9,550.0 1239.0,548.1 1239.5,546.3 1239.5,544.4 1239.8,542.6 1239.9,540.7 1239.8,538.8 1240.4,537.0 1241.1,535.2 1241.6,533.3 1242.0,531.5 1242.7,529.7 1242.7,527.7 1243.2,525.9 1243.9,524.1 1244.3,522.3 1244.9,520.4 1244.9,518.5 1245.4,516.7 1245.8,514.8 1246.5,513.1 1246.3,511.1 1247.5,509.4 1248.4,507.6 1248.9,505.6 1250.9,505.2 1252.2,503.7 1252.5,505.6 1252.8,507.4 1253.2,509.2 1253.6,511.1 1253.8,512.9 1254.5,514.7 1254.6,516.6 1254.6,518.5 1254.5,520.4 1254.9,522.2 1255.0,524.1 1255.7,522.3 1255.7,520.4 1255.9,518.6 1255.6,516.6 1255.8,514.8 1256.0,512.9 1256.8,511.1 1257.3,509.3 1257.3,507.4 1257.8,505.6 1258.3,503.9 1258.7,502.2 1258.9,500.4 1259.2,498.7 1259.4,497.0 1259.5,495.2 1260.0,493.5 1260.8,495.2 1260.9,496.9 1260.8,498.8 1260.6,500.6 1261.1,502.3 1261.6,504.0 1261.9,505.8 1261.9,507.6 1262.4,509.3 1262.7,507.5 1262.7,505.6 1263.1,503.7 1263.2,501.9 1263.6,500.0 1263.7,498.2 1263.5,496.3 1263.8,494.4 1264.3,492.6 1264.2,490.7 1264.5,488.9 1265.0,487.1 1265.2,485.2 1266.5,484.2 1268.0,483.3 1269.1,481.7 1270.8,480.5 1271.7,478.7 1273.1,477.6 1274.5,476.6 1275.4,475.0 1276.0,476.7 1275.8,478.5 1276.7,480.1 1277.1,481.8 1277.2,483.6 1277.1,485.3 1277.8,487.0 1278.3,488.7 1278.6,490.4 1278.6,492.2 1279.3,493.9 1279.2,495.6 1279.1,497.4 1279.4,499.1 1279.4,500.9 1279.4,502.7 1279.5,504.4 1279.6,506.1 1279.5,507.9 1279.9,509.6 1280.2,511.4 1280.6,513.1 1280.9,514.8 1281.5,513.0 1281.6,511.1 1282.0,509.3 1282.3,507.4 1282.6,505.6 1283.3,503.8 1283.5,501.9 1283.3,500.0 1283.4,501.9 1283.6,503.8 1283.8,505.7 1284.5,507.5 1284.8,509.4 1285.9,511.1 1285.8,512.9 1286.2,514.6 1286.3,516.3 1286.5,518.1 1286.6,519.8 1286.4,521.6 1286.9,523.3 1287.5,525.0 1288.0,526.7 1288.1,528.4 1288.3,530.1 1288.3,531.9 1288.2,533.7 1287.8,535.4 1287.9,537.2 1288.3,538.9 1288.5,537.2 1288.4,535.4 1288.7,533.6 1289.1,531.9 1289.5,530.2 1288.9,528.4 1289.3,526.6 1289.7,524.9 1289.9,523.2 1289.5,521.4 1289.4,519.6 1289.7,517.9 1289.9,516.1 1289.7,514.4 1289.5,512.6 1290.0,510.9 1289.7,509.1 1290.2,507.4 1290.2,505.6 1290.9,503.7 1291.7,501.9 1292.0,499.9 1293.0,498.1 1293.2,496.2 1293.7,494.4 1293.7,492.5 1294.6,490.8 1294.5,488.8 1294.6,486.9 1295.0,485.1 1295.7,483.3 1296.5,485.2 1297.3,487.2 1298.5,488.9 1298.7,487.1 1298.9,485.3 1299.1,483.6 1299.2,481.8 1298.8,479.9 1299.6,478.2 1300.0,476.4 1300.4,474.7 1300.5,472.9 1300.9,471.1 1301.3,469.4 1302.1,467.9 1302.9,466.3 1303.7,464.8 1304.1,466.8 1305.2,468.4 1305.8,470.3 1306.3,472.2 1306.4,470.4 1306.9,468.7 1307.7,467.1 1307.9,465.3 1308.3,463.6 1308.6,461.8 1309.3,460.2 1309.6,461.9 1310.5,463.4 1311.4,464.9 1311.5,466.7 1311.4,468.5 1311.6,470.3 1311.8,472.0 1311.5,473.8 1311.8,475.6 1312.0,477.4 1312.0,479.2 1311.9,480.9 1312.1,482.7 1311.9,484.5 1311.4,486.3 1311.7,488.1 1311.4,489.9 1312.2,491.6 1311.9,493.4 1312.1,495.2 1312.2,497.0 1312.4,498.8 1312.7,500.5 1313.1,502.3 1313.1,504.1 1312.8,505.9 1312.5,507.7 1312.7,509.4 1313.0,511.2 1313.0,513.0 1313.0,511.1 1313.0,509.2 1313.8,507.5 1314.2,505.6 1314.4,503.8 1314.5,501.9 1314.4,500.0 1315.1,498.2 1315.5,496.4 1315.4,494.5 1315.6,492.6 1315.5,494.5 1316.1,496.3 1316.1,498.2 1316.6,500.0 1316.9,501.8 1316.9,503.7 1316.9,505.6 1316.9,507.4 1317.4,509.3 1317.1,511.1 1317.1,513.0 1318.0,514.8 1319.3,513.9 1320.7,513.0 1321.0,511.2 1321.0,509.3 1321.1,507.4 1321.0,505.5 1321.3,503.7 1321.6,501.8 1322.2,500.0 1322.7,498.2 1323.0,496.3 1322.9,494.5 1323.0,492.6 1323.0,490.7 1323.5,492.5 1323.7,494.4 1324.6,496.2 1324.6,498.1 1324.8,500.0 1324.5,498.1 1324.7,496.3 1324.9,494.4 1325.1,492.6 1325.8,490.8 1325.9,488.9 1326.5,487.1 1326.9,485.3 1326.8,483.4 1326.9,481.5 1327.4,479.7 1327.3,477.8 1327.4,476.0 1327.2,474.1 1328.3,472.6 1329.6,471.3 1330.4,472.9 1331.3,474.5 1332.0,476.2 1332.8,477.8 1332.7,479.6 1332.6,481.4 1332.9,483.2 1333.1,485.0 1333.2,486.8 1333.5,488.6 1334.1,490.3 1334.0,492.1 1334.5,493.9 1334.4,495.7 1334.9,497.4 1334.6,499.3 1335.2,501.0 1335.1,502.8 1335.6,504.6 1336.9,503.3 1337.4,501.6 1338.3,500.0 1338.8,501.3 1340.0,502.2 1339.9,500.4 1339.7,498.5 1340.2,496.8 1340.6,495.0 1340.7,493.2 1340.2,491.3 1340.5,489.5 1340.7,487.8 1340.9,486.0 1341.1,484.2 1340.8,482.3 1341.0,480.5 1341.9,478.8 1342.2,477.0 1343.3,475.7 1343.9,474.2 1344.4,472.6 1344.5,470.9 1345.0,469.2 1345.6,467.5 1346.1,465.9 1346.0,464.1 1346.4,462.4 1346.7,460.7 1347.2,458.9 1348.0,457.3 1348.7,455.6 1349.1,453.8 1348.9,451.9 1350.2,450.6 1351.0,449.0 1351.9,447.4 1352.9,445.9 1353.2,444.1 1353.8,442.5 1354.1,440.7 1355.0,442.0 1356.3,443.0 1356.4,441.2 1356.7,439.5 1356.6,437.6 1357.2,435.9 1357.7,434.2 1358.5,432.6 1358.8,434.4 1358.9,436.2 1359.8,438.0 1359.9,439.8 1360.0,441.6 1360.3,443.4 1360.2,445.3 1360.0,447.2 1360.7,448.9 1360.9,447.0 1361.0,445.0 1361.3,443.1 1361.7,441.2 1362.3,439.4 1362.4,437.4 1363.0,435.6 1363.6,433.9 1363.6,432.2 1364.1,430.5 1364.5,428.8 1364.9,427.2 1365.7,425.6 1365.2,423.7 1365.9,421.7 1366.6,419.7 1367.4,417.8 1367.8,416.0 1368.3,414.3 1368.2,412.4 1368.6,410.7 1368.9,408.9 1369.7,407.3 1370.9,405.9 1371.9,404.4 1373.2,403.1 1374.1,401.6 1374.8,400.0 1375.1,398.2 1375.5,396.4 1375.0,394.5 1375.7,392.7 1376.2,391.0 1376.6,389.2 1377.0,387.4 1378.2,388.4 1379.3,389.6 1379.7,391.3 1379.9,393.0 1379.7,394.8 1379.9,396.5 1379.8,398.3 1380.8,400.0 1381.0,401.7 1381.0,403.4 1381.1,405.2 1381.7,406.9 1382.0,408.6 1381.5,410.4 1381.7,412.1 1382.6,413.6 1383.4,415.2 1384.1,416.7 1384.1,418.5 1384.0,416.7 1384.3,414.9 1384.5,413.1 1383.9,411.2 1384.5,409.4 1384.3,407.6 1384.3,405.8 1384.8,404.0 1384.8,402.2 1384.5,400.3 1384.4,398.5 1384.3,396.7 1384.2,394.9 1384.3,393.1 1384.7,391.3 1384.9,389.5 1384.6,387.6 1385.5,385.8 1385.2,384.0 1385.2,382.2 1385.7,380.4 1386.1,378.6 1386.7,376.9 1387.1,375.1 1387.4,373.3 1389.0,372.3 1390.4,371.1 1389.9,373.0 1390.1,374.8 1390.6,376.7 1390.6,378.5 1390.9,380.3 1391.1,382.2 1391.1,384.0 1391.1,385.9 1391.2,387.7 1391.1,389.6 1391.3,391.5 1391.7,393.3 1391.5,395.2 1391.6,397.0 1391.7,398.8 1391.4,400.6 1391.6,402.5 1391.5,404.3 1391.5,406.1 1392.3,407.9 1392.6,409.8 1392.7,411.6 1392.1,413.4 1392.6,415.2 1392.2,417.0 1391.8,418.9 1391.7,420.7 1391.6,422.5 1391.8,424.3 1391.8,426.2 1391.8,428.0 1391.7,429.8 1391.6,431.6 1391.8,433.5 1392.0,435.3 1392.2,437.1 1392.1,438.9 1392.5,440.7 1392.8,442.6 1392.1,444.4 1393.5,442.9 1395.1,441.5 1395.3,443.3 1395.4,445.2 1396.1,447.0 1396.0,448.8 1395.9,450.6 1395.6,452.5 1396.1,454.3 1396.0,456.1 1395.8,458.0 1395.6,459.8 1395.2,461.6 1395.0,463.5 1395.4,465.3 1395.3,467.1 1395.5,468.9 1395.7,470.8 1395.6,472.6 1395.0,474.3 1395.1,476.1 1395.2,477.9 1395.1,479.6 1395.1,481.4 1394.5,483.1 1394.2,484.9 1393.7,486.6 1393.5,488.3 1393.6,490.1 1393.6,491.9 1394.8,492.9 1396.3,493.3 1396.6,495.1 1396.7,496.9 1396.8,498.7 1396.8,500.5 1396.5,502.4 1396.8,504.2 1396.8,506.0 1396.9,507.8 1397.0,509.6 1397.4,510.0 1397.5,511.8 1397.6,513.5 1397.6,515.3 1397.6,517.0 1397.5,518.8 1397.5,520.6 1397.5,522.3 1397.6,524.1 1397.6,525.9 1397.7,527.6 1397.8,529.4 1397.8,531.1 1397.9,532.9 1397.9,534.7 1398.0,536.4 1398.0,538.2 1398.0,539.9 1398.0,541.7 1398.0,543.5 1398.1,545.2 1397.8,547.0 1397.8,548.8 1397.9,550.6 1397.9,552.4 1398.1,554.2 1398.2,556.0 1398.1,557.7 1398.3,559.5 1398.3,561.3 1398.2,563.1 1398.1,564.9 1398.2,566.7 1398.2,568.5 1398.1,570.3 1398.2,572.1 1398.1,573.9 1398.1,575.7 1398.1,577.5 1398.1,579.2 1398.1,581.0 1398.1,582.8 1398.0,584.6 1397.9,586.4 1398.0,588.2 1398.1,590.0 1398.1,591.8 1398.0,593.7 1398.1,595.5 1398.1,597.4 1398.0,599.2 1398.1,601.1 1398.3,602.9 1398.3,604.7 1398.2,606.6 1398.2,608.4 1398.3,610.3 1398.1,612.1 1398.2,613.9 1398.2,615.8 1398.3,617.6 1398.2,619.5 1398.3,621.3 1398.4,623.2 1398.2,625.0 1398.2,626.9 1398.2,628.8 1398.4,630.7 1398.5,632.5 1398.6,634.4 1399.1,636.3 1399.1,638.1 1399.5,640.0 1399.6,638.2 1399.7,636.4 1399.5,634.5 1399.7,632.7 1399.8,630.9 1399.7,629.1 1399.7,627.3 1399.8,625.5 1399.8,623.6 1399.9,621.8 1399.9,620.0 1400.0,618.2 1400.0,616.4 1399.8,614.5 1399.7,612.7 1400.1,610.9 1400.1,609.1 1400.2,607.3 1400.3,605.5 1400.4,603.6 1400.4,601.8 1400.0,600.0 1399.9,598.2 1400.0,596.4 1399.8,594.6 1399.8,592.8 1400.0,591.0 1399.8,589.1 1399.9,587.3 1400.0,585.5 1400.2,583.7 1400.1,581.9 1400.0,580.1 1399.9,578.3 1399.8,576.5 1400.0,574.7 1400.2,572.9 1400.1,571.0 1400.3,569.2 1400.3,567.4 1400.2,565.6 1400.4,563.8 1400.2,562.0 1400.0,560.1 1400.2,558.3 1400.3,556.4 1400.7,554.6 1400.9,552.7 1401.1,550.9 1400.8,549.0 1400.8,550.8 1400.7,552.6 1400.6,554.5 1400.6,556.3 1400.7,558.1 1400.7,559.9 1400.8,561.8 1401.0,563.6 1400.8,565.4 1400.9,567.2 1401.1,569.0 1401.1,570.9 1401.1,572.7 1401.0,574.5 1400.9,576.3 1400.9,578.1 1401.0,580.0 1401.1,581.8 1401.1,583.6 1401.2,585.4 1401.1,587.2 1400.8,589.1 1400.9,590.9 1401.0,592.7 1400.9,594.5 1400.9,596.4 1400.9,598.2 1401.2,600.0 1401.1,601.8 1401.1,603.6 1401.0,605.5 1400.9,607.3 1400.9,609.1 1400.8,610.9 1401.0,612.7 1401.0,614.5 1401.2,616.4 1401.1,618.2 1401.0,620.0 1401.1,621.8 1401.1,623.6 1400.9,625.5 1400.8,627.3 1401.1,629.1 1401.1,630.9 1401.1,632.7 1401.1,634.5 1401.1,636.4 1401.1,638.2 1401.3,640.0 1401.4,641.8 1401.6,643.5 1401.6,645.3 1401.6,647.1 1401.7,648.9 1401.9,650.6 1402.1,652.4 1402.3,654.2 1402.3,655.9 1402.5,657.7 1402.8,659.5 1402.6,661.2 1402.7,663.0 1402.5,664.8 1402.4,663.0 1402.5,661.2 1402.3,659.4 1402.5,657.6 1402.4,655.8 1402.5,654.0 1402.5,652.3 1402.6,650.5 1402.6,648.7 1402.6,646.9 1402.4,645.1 1402.3,643.3 1402.4,641.5 1402.6,639.7 1402.6,637.9 1402.7,636.1 1402.7,634.3 1402.8,632.5 1402.9,630.8 1402.7,629.0 1402.7,627.2 1402.7,625.4 1402.7,623.6 1402.7,621.8 1402.8,620.0 1402.7,618.2 1402.7,616.3 1402.6,614.5 1402.9,612.6 1403.1,610.8 1403.0,608.9 1403.1,607.1 1403.0,605.3 1402.7,603.4 1402.5,601.6 1402.6,599.7 1402.9,597.9 1402.9,596.1 1402.8,594.2 1402.8,592.4 1402.8,590.5 1402.7,588.7 1402.7,586.8 1403.0,585.0 1403.2,583.1 1403.3,581.2 1403.5,579.4 1403.7,577.5 1404.0,575.6 1404.4,573.8 1404.6,571.9 1404.8,570.0 1405.1,568.2 1405.0,566.3 1405.2,564.5 1405.2,562.7 1405.3,560.8 1405.4,559.0 1405.6,557.2 1405.9,555.3 1405.9,553.5 1405.9,551.7 1406.0,549.8 1406.2,548.0 1406.3,546.2 1406.4,544.4 1406.6,542.6 1406.8,540.8 1406.7,539.0 1406.9,537.2 1407.0,535.4 1406.9,533.6 1407.1,531.8 1407.2,530.0 1407.3,528.2 1407.3,526.4 1407.6,524.5 1407.8,522.7 1407.9,520.9 1408.0,519.1 1408.2,517.3 1408.4,515.5 1408.6,513.6 1408.7,511.8 1408.7,510.0 1408.6,508.2 1408.6,506.5 1408.6,504.7 1408.4,502.9 1408.7,501.2 1408.7,499.4 1408.6,497.6 1408.5,495.9 1408.6,494.1 1408.6,492.3 1408.6,490.5 1408.6,488.8 1408.6,487.0 1408.6,485.2 1408.6,483.5 1408.6,481.7 1408.7,479.9 1408.8,478.2 1408.8,476.4 1408.9,474.6 1409.0,472.9 1408.9,471.1 1409.1,469.3 1409.2,467.4 1409.2,465.6 1408.9,463.7 1408.9,461.8 1409.2,460.0 1409.3,458.2 1409.2,456.3 1408.8,454.4 1408.5,452.6 1408.8,450.7 1409.3,448.9 1409.5,447.1 1409.1,445.2 1409.2,443.3 1409.6,441.5 1409.9,439.7 1409.7,437.8 1410.1,435.9 1410.2,434.1 1410.2,432.2 1410.1,430.3 1410.7,428.5 1411.0,426.7 1411.0,424.8 1410.9,422.9 1411.5,421.1 1411.9,419.3 1412.0,417.5 1411.9,415.6 1412.3,413.8 1412.1,411.9 1411.6,410.1 1411.9,408.3 1411.7,406.4 1411.8,404.6 1411.7,402.8 1411.3,401.0 1410.9,399.1 1410.9,397.3 1411.4,395.4 1411.0,393.6 1411.4,391.8 1411.4,389.9 1411.1,388.1 1412.8,388.5 1414.1,389.6 1414.1,387.8 1414.1,385.9 1413.6,384.1 1412.8,382.3 1413.0,380.5 1412.6,378.7 1412.8,376.8 1412.1,375.1 1412.2,373.2 1411.9,371.4 1411.5,369.6 1411.6,367.7 1411.7,365.9 1411.6,364.1 1412.2,362.2 1411.8,360.4 1412.0,358.6 1411.4,356.9 1411.8,355.1 1412.2,353.3 1413.2,355.1 1413.9,357.0 1414.9,358.8 1416.7,360.0 1416.7,358.2 1416.7,356.3 1416.5,354.5 1416.0,352.7 1416.4,350.8 1416.4,349.0 1416.1,347.2 1415.6,345.4 1416.1,343.5 1416.1,341.7 1415.5,339.9 1415.6,338.0 1416.1,336.2 1415.8,334.4 1415.7,332.5 1415.3,330.7 1414.9,328.9 1414.8,327.1 1415.3,325.3 1416.4,323.5 1416.4,321.6 1416.2,319.8 1416.5,318.0 1416.3,316.1 1416.6,314.3 1416.8,312.5 1416.5,310.6 1416.2,308.8 1416.3,306.9 1416.8,305.1 1416.9,303.3 1417.4,301.5 1417.0,299.6 1417.1,297.8 1417.1,299.6 1417.6,301.3 1417.7,303.0 1417.8,304.8 1418.4,306.5 1418.6,308.2 1419.1,309.9 1419.1,311.7 1419.5,313.4 1419.8,315.2 1419.8,316.9 1420.1,318.7 1419.8,320.5 1420.0,322.2 1420.6,320.3 1421.6,318.7 1422.4,316.9 1422.9,315.0 1423.8,313.3 1423.6,311.5 1423.3,309.8 1423.2,308.0 1423.1,306.2 1423.7,304.4 1423.4,302.6 1423.8,300.8 1423.8,299.1 1423.1,297.3 1422.3,295.6 1422.6,293.8 1421.9,292.0 1422.3,290.2 1422.6,288.5 1422.7,286.7 1422.5,284.9 1422.4,283.1 1422.4,281.3 1422.2,279.6 1422.2,277.8 1422.6,276.1 1423.1,274.4 1424.1,272.8 1424.4,271.1 1425.1,269.4 1425.3,267.6 1425.7,265.9 1426.7,264.4 1426.4,262.6 1426.7,260.8 1427.2,259.1 1427.5,257.3 1427.5,255.5 1427.9,253.8 1428.0,252.0 1428.3,250.2 1428.6,248.5 1428.9,246.7 1428.3,244.8 1428.1,243.0 1428.8,241.3 1429.0,239.5 1429.6,237.8 1430.4,236.0 1430.2,234.3 1430.0,232.5 1430.4,230.7 1430.5,228.9 1431.1,227.2 1431.0,225.4 1430.8,223.6 1430.9,221.8 1430.5,220.0 1430.3,218.2 1430.1,216.4 1430.1,214.7 1430.5,212.9 1430.3,211.1 1430.5,209.3 1430.4,207.5 1430.7,205.8 1429.8,204.0 1430.0,202.2 1430.2,200.4 1430.0,198.6 1430.5,196.9 1430.7,195.1 1431.2,193.3 1431.5,191.5 1431.6,189.8 1431.5,188.0 1431.1,186.2 1431.1,184.4 1431.8,182.5 1432.4,180.7 1433.3,178.9 1433.3,180.7 1433.5,182.5 1432.5,184.3 1433.3,186.1 1433.0,187.9 1433.3,189.7 1433.5,191.5 1433.3,193.3 1433.4,195.1 1434.0,196.9 1433.8,198.7 1434.0,200.5 1434.7,202.3 1434.5,204.1 1434.8,205.9 1434.9,207.7 1434.6,209.5 1434.5,211.3 1434.6,213.1 1433.9,215.0 1433.9,216.8 1434.2,218.6 1434.2,220.4 1434.4,222.2 1435.2,223.9 1435.6,225.7 1435.9,227.5 1435.0,229.4 1435.1,231.2 1435.1,233.0 1435.3,234.8 1434.9,236.6 1435.0,238.4 1434.5,240.2 1434.4,242.0 1434.1,243.8 1434.4,245.6 1434.5,247.4 1434.9,249.2 1435.1,251.0 1435.7,252.8 1435.9,254.6 1436.2,256.4 1436.3,258.2 1435.6,260.0 1436.0,258.2 1436.1,256.4 1436.5,254.6 1436.6,252.8 1436.8,251.0 1437.0,249.2 1436.6,247.4 1436.8,245.6 1436.6,243.8 1436.3,242.0 1436.7,240.2 1437.4,238.4 1436.8,236.6 1437.3,234.8 1437.4,233.0 1437.0,231.2 1437.0,229.4 1437.1,227.6 1437.1,225.8 1436.9,224.0 1436.7,222.2 1437.3,223.9 1437.4,225.7 1437.2,227.5 1437.2,229.2 1437.2,231.0 1437.1,232.8 1437.8,234.5 1438.0,236.2 1438.1,238.0 1438.1,239.8 1438.3,241.5 1438.4,243.3 1438.7,245.0 1439.3,246.7 1438.9,248.6 1440.0,250.4 1440.2,252.2 1439.6,254.2 1440.0,256.0 1440.9,257.8 1441.1,259.6 1441.8,261.4 1441.6,263.3 1441.5,261.5 1441.7,259.7 1442.3,258.0 1442.4,256.2 1442.6,254.4 1442.9,252.6 1442.9,250.8 1442.5,249.0 1442.5,247.2 1442.6,245.5 1442.6,243.7 1442.4,241.9 1442.4,240.1 1442.0,238.3 1441.9,236.5 1442.2,234.7 1442.3,232.9 1442.5,231.1 1443.2,229.4 1443.3,227.6 1443.4,225.8 1443.0,224.0 1442.8,222.2 1443.2,220.4 1443.0,218.6 1443.4,216.9 1443.2,215.1 1443.8,213.3 1444.3,215.2 1445.0,217.0 1445.2,218.9 1446.0,220.7 1446.7,222.5 1447.3,224.4 1447.5,222.6 1447.5,220.7 1448.1,218.9 1448.0,217.0 1447.8,215.2 1447.7,213.3 1448.0,211.5 1448.1,209.6 1448.4,207.8 1447.9,205.9 1448.8,204.1 1448.2,202.2 1449.7,201.1 1450.5,199.5 1451.1,197.8 1451.6,199.5 1451.6,201.3 1451.5,203.1 1452.3,204.8 1452.2,206.6 1452.7,208.4 1452.4,210.2 1452.0,212.0 1451.7,213.8 1452.4,215.5 1452.0,217.3 1451.9,219.1 1452.2,220.9 1452.2,222.6 1452.7,224.4 1453.9,222.9 1454.4,221.2 1455.1,219.5 1455.6,217.8 1455.7,216.0 1456.4,214.3 1455.9,212.4 1456.8,210.7 1456.7,208.9 1457.4,207.1 1457.1,205.3 1457.2,203.5 1457.4,201.7 1458.4,200.0 1458.6,201.9 1459.6,203.6 1459.8,205.5 1460.4,207.3 1460.4,209.3 1461.1,211.1 1461.2,209.3 1461.6,207.5 1461.8,205.8 1462.6,204.1 1462.5,202.2 1462.7,200.5 1463.5,198.7 1463.5,196.9 1463.8,195.2 1463.6,193.3 1463.9,191.6 1463.3,189.7 1463.6,187.9 1463.7,186.1 1464.4,184.4 1464.1,182.5 1463.9,180.6 1464.7,178.8 1465.1,177.0 1464.8,175.1 1465.7,173.3 1465.6,171.4 1465.7,169.6 1466.0,167.7 1465.9,165.9 1465.7,164.0 1466.7,162.2 1466.8,160.4 1467.5,158.7 1468.1,156.9 1467.7,155.1 1468.2,153.3 1467.8,155.1 1467.9,156.9 1467.9,158.7 1468.0,160.5 1468.0,162.3 1468.4,164.1 1468.7,165.9 1468.9,167.7 1469.0,169.5 1468.7,171.3 1469.1,173.1 1468.5,174.9 1468.7,176.7 1468.9,178.5 1468.6,180.3 1468.5,182.1 1468.7,183.9 1469.1,185.7 1469.4,187.4 1469.8,189.2 1469.2,191.0 1468.8,192.9 1468.2,194.7 1468.3,196.5 1468.3,198.3 1468.2,200.1 1468.1,201.9 1468.4,203.7 1468.5,205.4 1467.9,207.3 1468.8,209.0 1469.3,210.8 1469.6,212.6 1469.3,214.4 1468.9,216.2 1469.1,218.0 1469.0,219.8 1469.1,221.6 1469.1,223.4 1469.4,225.2 1469.4,227.0 1469.4,228.8 1469.1,230.6 1468.5,232.4 1469.3,234.2 1469.2,236.0 1469.6,237.8 1469.9,236.1 1470.5,234.5 1471.0,232.9 1471.4,231.2 1471.8,229.6 1471.6,227.8 1471.2,226.0 1471.8,224.4 1471.3,226.2 1471.2,228.0 1471.7,229.8 1471.5,231.6 1471.5,233.4 1472.5,235.2 1472.3,237.0 1472.7,238.7 1472.4,240.6 1472.7,242.3 1473.0,244.1 1473.5,245.9 1473.5,247.7 1473.1,249.5 1473.4,251.3 1474.0,253.1 1473.2,254.9 1472.7,256.7 1472.7,258.5 1473.1,260.3 1473.7,262.1 1474.3,263.8 1474.0,265.6 1473.6,267.5 1474.1,269.2 1474.1,271.0 1474.3,272.8 1474.4,274.6 1474.3,276.4 1473.7,278.2 1474.4,280.0 1474.3,278.2 1474.8,276.5 1475.3,274.8 1475.2,273.0 1475.3,271.2 1474.9,269.5 1475.5,267.7 1475.4,266.0 1475.4,264.2 1475.6,262.5 1475.5,260.7 1475.4,258.9 1475.6,257.2 1476.4,255.5 1476.5,253.7 1476.8,252.0 1476.4,250.2 1476.0,248.4 1477.1,246.7 1478.2,248.3 1480.0,248.9 1480.0,247.1 1479.6,245.3 1479.7,243.4 1480.1,241.6 1479.7,239.8 1479.6,238.0 1480.0,236.2 1479.9,234.4 1480.4,232.6 1480.9,230.8 1481.1,229.0 1481.0,227.2 1481.1,225.4 1480.9,223.5 1481.0,221.7 1481.2,219.9 1481.2,218.1 1481.7,216.3 1482.6,214.5 1482.2,212.7 1482.3,210.9 1482.5,209.1 1482.6,207.3 1482.5,205.5 1482.3,203.6 1482.6,201.8 1482.2,200.0 1482.2,201.8 1482.3,203.6 1482.9,205.3 1482.9,207.1 1482.9,209.0 1483.3,210.7 1483.3,212.5 1482.9,214.4 1484.0,216.0 1484.4,217.8 1484.4,219.7 1485.0,221.5 1485.6,223.3 1485.7,225.1 1485.6,227.0 1485.7,228.9 1486.3,230.7 1486.8,232.5 1487.0,234.4 1487.0,236.2 1487.3,238.1 1486.7,240.0 1487.2,241.8 1486.6,243.6 1487.0,245.5 1487.0,247.3 1487.2,249.1 1487.4,250.9 1487.3,252.7 1487.4,254.5 1487.2,256.4 1487.6,258.2 1488.0,260.0 1487.3,261.8 1487.3,263.6 1487.1,265.5 1486.8,267.3 1486.8,269.1 1487.0,270.9 1487.6,272.7 1488.2,274.5 1487.8,276.4 1487.6,278.2 1487.4,280.0 1488.1,281.8 1488.8,283.6 1488.9,285.4 1489.1,287.2 1488.8,289.1 1489.0,290.9 1488.3,292.7 1488.5,294.5 1488.6,296.4 1488.3,298.2 1488.2,300.0 1488.5,301.8 1489.3,303.5 1489.4,305.4 1489.3,307.3 1490.4,308.9 1490.1,307.1 1490.2,305.3 1490.0,303.5 1489.6,301.7 1490.2,300.0 1490.6,298.2 1491.1,296.4 1491.3,294.7 1490.7,292.9 1490.9,291.1 1490.9,289.3 1490.7,287.5 1490.6,285.7 1491.2,284.0 1491.3,282.2 1492.1,280.4 1492.3,278.7 1491.7,276.8 1492.2,275.1 1492.7,273.3 1492.7,271.5 1492.3,269.7 1493.0,268.0 1492.5,266.2 1492.7,264.4 1492.8,262.6 1492.3,260.8 1492.2,258.9 1492.0,257.1 1492.8,255.4 1493.4,253.6 1493.4,251.8 1493.2,250.0 1493.4,248.2 1493.8,246.4 1493.5,244.5 1493.4,242.7 1493.7,240.9 1494.3,239.2 1494.5,237.4 1494.9,235.6 1495.2,233.8 1495.0,231.9 1494.5,230.0 1495.0,228.2 1495.0,226.4 1495.4,224.6 1495.6,222.8 1496.1,221.0 1496.2,219.2 1497.0,217.4 1497.1,215.6 1497.2,217.4 1497.2,219.2 1497.1,220.9 1497.0,222.7 1497.1,224.5 1497.9,226.2 1498.2,228.0 1497.7,229.8 1497.7,231.6 1497.8,233.4 1497.8,235.1 1498.3,236.9 1498.7,238.7 1499.0,240.4 1498.9,242.2 1499.6,240.6 1500.0,239.0 1500.8,237.4 1501.1,235.7 1501.9,234.1 1502.1,232.5 1501.8,230.7 1501.6,228.9 1502.4,227.2 1502.7,225.4 1503.3,223.7 1503.4,221.9 1503.4,220.1 1503.7,218.3 1503.5,216.4 1503.4,214.6 1503.5,212.8 1504.4,211.1 1504.8,212.9 1505.5,214.6 1505.7,216.4 1505.7,218.2 1505.3,220.1 1505.0,222.0 1505.5,223.8 1505.6,225.6 1506.2,227.3 1506.4,229.1 1506.8,230.9 1507.4,232.6 1507.8,234.4 1508.1,232.6 1507.8,230.7 1508.3,228.9 1508.5,227.1 1508.4,225.2 1508.7,223.4 1509.2,221.6 1509.3,219.8 1509.7,218.0 1510.2,216.2 1510.9,214.4 1510.7,212.6 1510.9,210.7 1511.1,208.9 1511.7,207.3 1512.5,205.7 1512.9,204.1 1513.4,202.4 1513.2,200.6 1513.4,198.9 1514.4,197.4 1514.4,195.6 1514.9,194.0 1516.1,192.7 1516.3,191.0 1516.7,189.4 1517.1,187.8 1517.8,189.6 1517.7,191.4 1517.8,193.3 1517.3,195.2 1517.6,197.0 1518.0,198.8 1518.8,200.5 1518.9,202.4 1518.8,204.2 1518.8,206.1 1518.7,207.9 1518.8,209.8 1519.2,211.6 1520.0,213.3 1520.5,211.6 1520.7,209.9 1520.5,208.1 1521.4,206.5 1521.7,204.8 1521.5,203.0 1521.9,201.3 1522.3,199.6 1522.8,197.9 1523.5,196.2 1522.9,194.4 1524.0,196.2 1523.6,198.0 1523.1,199.8 1523.4,201.6 1524.1,203.4 1523.9,205.2 1523.7,207.0 1523.6,208.8 1524.0,210.6 1524.1,212.4 1524.0,214.2 1523.7,216.0 1523.0,217.8 1523.1,219.6 1523.6,221.4 1524.5,223.2 1524.1,225.0 1524.2,226.8 1524.2,228.6 1524.6,230.4 1524.3,232.2 1525.0,234.0 1524.9,235.8 1524.8,237.6 1524.7,239.4 1524.3,241.2 1524.4,243.0 1524.5,244.8 1524.3,246.6 1525.0,248.4 1525.1,250.2 1525.1,252.0 1524.8,253.8 1525.1,255.6 1525.0,253.8 1525.4,252.0 1525.6,250.2 1525.2,248.3 1524.9,246.5 1524.8,244.6 1525.2,242.8 1525.5,241.0 1526.0,239.2 1526.5,237.4 1526.4,235.6 1526.9,233.8 1527.2,232.0 1527.4,230.2 1527.5,228.4 1527.1,226.5 1527.3,224.7 1527.1,222.9 1526.8,221.0 1527.0,219.2 1527.3,217.4 1527.8,215.6 1528.3,213.8 1528.7,212.0 1528.9,210.1 1529.6,208.4 1530.4,206.7 1531.0,208.3 1531.8,209.9 1532.0,211.6 1531.7,213.4 1532.3,215.0 1533.0,216.6 1532.8,218.4 1533.3,220.0 1532.9,221.9 1533.2,223.6 1533.5,225.4 1533.6,227.2 1532.9,229.1 1533.2,230.9 1533.2,232.7 1533.5,234.5 1534.4,236.3 1535.0,238.0 1535.5,239.8 1535.3,241.6 1535.4,243.5 1534.9,245.3 1535.2,247.1 1535.6,248.9 1535.8,250.7 1536.0,252.5 1536.3,254.3 1535.8,256.1 1536.1,257.9 1536.1,259.7 1536.1,261.5 1536.9,263.3 1537.1,265.0 1538.2,266.7 1538.2,264.9 1538.5,263.1 1538.7,261.2 1538.9,259.4 1538.9,257.6 1539.6,255.8 1539.6,254.0 1539.9,252.2 1540.6,250.4 1540.7,248.6 1540.0,246.7 1540.5,244.9 1541.0,243.2 1541.4,241.4 1541.9,239.7 1541.3,237.8 1542.0,236.1 1541.9,234.3 1541.3,232.5 1541.2,230.7 1540.9,228.9 1541.1,227.1 1540.9,225.3 1540.9,223.5 1541.4,221.7 1542.2,220.0 1542.4,221.8 1542.9,223.6 1543.2,225.3 1543.5,227.1 1543.7,228.9 1543.9,230.7 1544.2,232.5 1544.1,234.4 1545.0,236.1 1545.3,237.9 1545.4,239.7 1545.7,241.5 1545.6,243.3 1545.6,241.5 1545.6,239.6 1545.9,237.8 1546.6,236.0 1546.6,234.2 1546.6,232.3 1546.9,230.5 1547.0,228.7 1546.5,226.8 1546.9,225.0 1547.0,223.1 1547.0,221.3 1547.5,219.5 1547.8,217.7 1547.8,215.8 1547.3,213.9 1547.1,212.1 1547.5,210.3 1547.9,208.5 1548.9,206.7 1549.6,204.9 1550.2,203.1 1550.5,201.1 1550.7,199.2 1551.0,197.2 1552.2,195.6 1553.3,194.4 1554.4,193.3 1555.0,195.1 1554.8,197.0 1555.5,198.8 1556.1,200.6 1556.2,202.5 1556.8,204.3 1556.2,206.3 1556.6,208.1 1556.7,210.0 1556.8,211.8 1557.2,213.7 1556.7,215.6 1556.9,213.7 1557.1,211.8 1558.4,210.4 1559.6,208.9 1559.4,210.7 1558.8,212.6 1559.7,214.4 1559.7,216.2 1559.9,218.0 1559.8,219.8 1560.2,221.6 1560.1,223.5 1560.0,225.3 1560.1,227.1 1559.9,229.0 1560.3,230.8 1560.0,232.6 1560.6,234.4 1560.3,236.2 1561.6,238.0 1561.7,239.8 1562.1,241.6 1562.1,243.4 1561.8,245.3 1561.7,247.1 1562.2,248.9 1562.3,250.7 1561.9,252.6 1562.7,254.4 1563.1,256.2 1562.7,258.1 1562.8,259.9 1563.8,261.7 1563.7,263.5 1564.2,265.3 1563.7,267.2 1563.5,269.1 1564.0,270.9 1563.7,272.7 1564.3,274.5 1564.2,276.4 1564.2,278.2 1564.9,280.0 1565.1,278.3 1564.8,276.5 1565.0,274.7 1564.6,272.9 1564.8,271.2 1564.7,269.4 1565.6,267.7 1565.7,266.0 1565.2,264.1 1566.0,262.5 1566.5,260.8 1566.7,259.0 1567.8,257.4 1567.8,255.6 1568.2,257.5 1568.9,259.2 1569.8,260.9 1571.4,262.3 1571.1,264.4 1571.9,262.7 1572.8,261.0 1573.2,259.2 1573.4,257.2 1574.4,255.6 1576.1,255.6 1577.8,255.6 1578.5,257.3 1578.5,259.2 1578.3,261.0 1577.9,262.8 1578.1,264.6 1578.2,266.4 1578.2,268.2 1578.0,270.0 1578.4,271.8 1579.1,273.5 1579.5,275.3 1580.1,277.1 1579.6,278.9 1579.5,277.1 1579.8,275.3 1580.2,273.6 1580.4,271.9 1580.7,270.1 1580.8,268.3 1581.2,266.6 1581.7,264.9 1582.1,263.1 1582.7,261.4 1582.6,259.6 1582.2,257.8 1582.5,256.0 1583.5,254.4 1583.8,252.7 1584.2,251.0 1584.4,249.2 1585.0,247.5 1585.1,245.7 1585.1,243.9 1585.6,242.2 1586.5,240.7 1587.3,239.2 1588.4,237.8 1588.2,239.6 1588.5,241.4 1588.6,243.3 1588.8,245.1 1588.8,246.9 1589.1,248.7 1588.8,250.5 1589.5,252.3 1589.7,254.1 1589.9,256.0 1589.7,257.8 1589.8,259.6 1589.7,261.4 1589.9,263.3 1590.3,265.1 1590.7,266.9 1590.8,268.7 1590.9,270.5 1590.8,272.3 1590.7,274.2 1590.4,276.0 1590.7,277.8 1590.8,276.0 1590.7,274.2 1590.6,272.3 1590.9,270.5 1591.3,268.7 1592.2,267.0 1592.3,265.2 1592.9,263.4 1593.5,261.7 1593.0,259.8 1593.4,258.0 1593.8,256.2 1594.1,254.4 1594.0,252.6 1594.3,250.8 1593.3,248.9 1593.7,250.6 1593.9,252.4 1594.1,254.1 1593.8,255.9 1594.2,257.7 1594.2,259.4 1594.5,261.2 1595.1,262.9 1595.3,264.6 1595.4,266.4 1595.9,268.1 1596.0,269.8 1596.5,271.6 1596.7,273.3 1597.1,271.4 1597.9,269.7 1598.5,267.9 1598.9,266.0 1600.0,264.4 1600.9,266.1 1601.2,267.9 1601.4,269.7 1601.9,271.4 1602.2,273.3 1603.1,274.9 1603.2,276.8 1603.4,278.6 1603.6,280.4 1604.0,282.2 1604.0,280.4 1604.4,278.5 1604.7,276.7 1605.3,275.0 1605.6,273.2 1605.8,271.3 1605.7,269.5 1606.3,267.7 1606.8,265.9 1606.8,264.1 1606.7,262.2 1608.0,260.9 1609.1,259.4 1610.0,257.8 1610.4,259.5 1611.2,261.2 1610.9,263.0 1611.9,264.6 1612.1,266.4 1612.5,268.1 1612.4,269.9 1613.0,271.6 1613.3,273.3 1613.5,275.1 1613.5,276.9 1613.6,278.8 1614.1,280.5 1614.1,282.4 1614.2,284.2 1614.2,286.0 1614.7,287.8 1615.0,289.6 1615.4,291.4 1615.9,293.1 1616.0,295.0 1616.0,296.8 1615.8,298.6 1616.2,300.4 1616.7,302.2 1617.0,300.4 1617.6,298.6 1617.6,296.8 1617.8,295.0 1618.0,293.1 1617.9,291.3 1617.8,289.4 1618.4,287.7 1618.6,285.9 1618.8,284.0 1618.9,282.2 1619.5,283.9 1619.5,285.7 1619.2,287.6 1619.8,289.3 1620.2,291.1 1619.9,292.9 1619.6,294.7 1619.3,296.5 1619.9,298.3 1620.0,300.1 1620.5,301.8 1620.5,303.6 1620.9,305.4 1621.0,307.1 1620.8,309.0 1621.0,310.7 1621.3,312.5 1621.6,314.3 1621.7,316.1 1622.2,317.8 1622.3,316.0 1622.6,314.3 1623.1,312.6 1623.8,310.9 1623.2,309.0 1623.1,307.2 1623.1,305.4 1623.8,303.7 1624.9,302.1 1625.1,300.4 1625.3,298.6 1625.8,296.9 1625.1,295.0 1625.6,293.3 1625.8,291.5 1625.1,289.5 1625.7,287.7 1626.0,285.9 1626.3,284.1 1626.9,282.3 1627.1,280.5 1627.9,278.7 1628.2,276.9 1628.7,275.1 1628.9,273.3 1630.1,271.7 1630.1,269.9 1630.6,268.1 1630.5,266.3 1631.2,264.6 1631.7,262.8 1631.9,261.0 1632.4,259.3 1633.1,257.6 1632.2,255.6 1633.3,254.2 1633.9,252.6 1634.5,251.0 1635.4,249.6 1635.6,247.8 1636.6,249.3 1637.3,250.9 1637.5,252.7 1637.8,254.5 1637.8,256.3 1638.9,257.8 1640.5,256.6 1641.6,255.1 1642.2,253.3 1642.1,255.1 1642.7,256.8 1642.8,258.6 1642.7,260.4 1642.8,262.2 1642.9,264.0 1642.7,265.8 1643.1,267.5 1643.4,269.3 1644.0,271.1 1643.5,272.9 1643.9,274.6 1644.4,276.4 1644.0,278.2 1644.0,280.0 1643.7,281.8 1643.9,283.6 1643.2,285.4 1643.2,287.2 1643.4,288.9 1643.6,290.7 1643.8,292.5 1643.7,294.3 1643.2,296.1 1644.4,297.8 1644.4,296.0 1644.3,294.2 1644.8,292.5 1645.3,290.8 1645.0,289.0 1645.0,287.2 1644.9,285.4 1645.5,283.7 1645.9,282.0 1645.9,280.2 1645.7,278.4 1646.3,276.7 1645.8,274.9 1646.4,273.1 1646.7,271.4 1647.6,269.7 1648.0,268.0 1647.9,266.2 1647.8,264.4 1649.2,264.3 1650.7,264.4 1650.9,266.2 1651.3,268.0 1651.3,269.8 1651.1,271.6 1651.8,273.4 1651.9,275.2 1651.5,277.1 1651.4,278.9 1651.9,280.7 1652.3,282.4 1652.7,284.2 1653.2,286.0 1652.8,287.9 1652.8,289.7 1653.2,291.5 1652.9,293.3 1652.5,291.5 1652.5,289.7 1652.5,287.8 1653.3,286.1 1653.1,284.2 1653.2,282.4 1653.6,280.6 1653.8,278.8 1653.7,277.0 1653.0,275.2 1653.6,273.4 1653.8,271.6 1653.7,269.8 1653.7,267.9 1653.4,266.1 1653.3,264.3 1652.9,262.5 1653.4,260.7 1653.7,258.9 1653.9,257.1 1654.2,255.3 1654.4,253.5 1654.5,251.7 1654.2,249.8 1654.4,248.0 1654.8,246.2 1654.4,244.4 1654.9,246.2 1655.3,248.0 1656.3,249.5 1657.3,251.1 1657.8,252.9 1657.4,254.7 1657.8,256.4 1657.9,258.2 1658.1,260.0 1658.2,261.8 1658.5,263.6 1658.8,265.3 1659.5,267.1 1658.8,268.9 1658.9,270.7 1659.7,272.4 1660.0,274.2 1660.4,275.9 1659.6,277.8 1659.9,276.0 1659.6,273.9 1660.6,272.3 1661.7,270.7 1662.2,268.9 1662.3,270.7 1662.0,272.4 1661.9,274.2 1662.4,275.9 1662.0,277.7 1662.6,279.4 1662.7,281.2 1662.7,283.0 1662.2,284.7 1662.2,286.5 1662.3,288.2 1662.3,290.0 1662.7,291.8 1662.7,293.7 1662.7,295.5 1662.5,297.4 1662.2,299.3 1662.2,301.1 1662.4,303.0 1662.7,304.8 1662.3,306.7 1662.5,308.5 1662.8,310.4 1662.4,312.3 1662.2,314.1 1663.6,315.9 1663.5,317.7 1663.6,319.5 1663.9,321.3 1663.6,323.1 1663.9,324.9 1663.6,326.7 1664.0,328.4 1664.0,330.2 1664.0,332.0 1664.0,333.8 1664.1,335.6 1664.0,337.4 1664.5,339.2 1664.9,341.0 1664.9,342.7 1664.3,344.6 1664.5,346.3 1664.9,348.1 1665.1,349.9 1665.1,351.7 1664.9,353.5 1664.9,355.4 1665.6,357.1 1665.9,359.0 1666.6,360.7 1666.7,359.0 1666.6,357.2 1666.4,355.5 1666.5,353.7 1666.4,352.0 1666.7,350.2 1666.2,348.5 1666.8,346.7 1667.2,345.0 1667.4,343.3 1667.9,341.5 1668.0,339.8 1667.3,338.0 1667.4,336.3 1667.6,334.5 1667.5,332.8 1667.4,331.0 1667.2,329.2 1667.7,327.4 1668.0,325.6 1668.0,323.8 1668.2,322.0 1668.2,320.2 1668.2,318.4 1668.4,316.6 1669.0,314.8 1668.6,313.0 1668.8,311.2 1669.4,309.4 1670.0,311.0 1671.4,312.0 1671.4,313.8 1671.6,315.6 1671.5,317.4 1672.0,319.2 1672.6,321.0 1673.2,322.7 1673.6,324.5 1673.4,326.3 1673.1,328.2 1673.3,330.0 1673.6,331.8 1673.5,333.6 1673.3,335.4 1673.2,337.2 1673.3,339.1 1674.1,340.9 1674.4,342.7 1675.2,344.5 1675.0,346.3 1675.2,348.2 1675.3,350.0 1674.8,351.9 1674.4,353.7 1674.4,355.6 1674.9,357.4 1675.6,359.2 1676.3,360.9 1677.2,362.6 1679.2,363.9 1679.3,365.7 1679.2,367.5 1678.5,369.3 1678.8,371.1 1679.0,372.9 1678.8,374.7 1678.4,376.5 1678.2,378.3 1678.5,380.1 1678.5,381.9 1678.5,383.7 1678.8,385.5 1678.6,387.3 1678.6,389.1 1678.1,390.9 1677.9,392.7 1678.1,394.5 1677.9,396.3 1678.3,398.0 1678.9,399.7 1679.5,401.4 1680.0,403.1 1680.0,405.0 1680.5,406.7 1681.1,408.5 1682.1,410.2 1682.7,412.0 1682.8,414.0 1682.6,416.0 1683.5,417.8 1684.0,419.6 1683.9,417.8 1683.9,416.0 1683.5,414.2 1683.9,412.4 1684.0,410.6 1684.2,408.8 1685.0,407.1 1684.8,405.3 1685.0,403.5 1685.2,401.7 1684.9,399.9 1684.7,398.1 1685.2,396.3 1685.4,394.5 1685.3,392.7 1684.9,390.9 1685.2,389.1 1685.4,387.4 1686.0,385.6 1686.3,383.8 1686.3,382.0 1686.2,380.2 1686.0,378.4 1685.7,376.6 1685.7,374.8 1685.3,373.0 1685.5,371.2 1685.8,369.5 1686.2,367.7 1686.3,366.0 1686.1,364.2 1686.4,362.4 1687.0,360.7 1686.6,358.9 1686.8,357.2 1687.0,355.4 1687.1,353.6 1687.3,351.9 1687.2,350.1 1686.9,348.3 1687.3,346.5 1688.2,344.8 1689.1,343.1 1688.8,341.2 1688.9,339.3 1688.3,337.4 1688.8,335.7 1688.8,333.9 1689.0,332.1 1688.8,330.3 1689.3,328.5 1689.7,326.7 1690.4,325.0 1690.8,326.9 1690.6,328.8 1690.0,330.7 1690.0,332.6 1690.0,334.5 1690.6,336.4 1690.8,338.2 1691.2,340.1 1692.1,341.9 1691.9,343.7 1692.1,345.4 1692.4,347.1 1692.5,348.8 1693.1,350.5 1693.1,352.3 1692.9,354.1 1693.4,355.7 1694.1,357.4 1694.0,359.2 1694.7,360.9 1694.3,362.7 1694.1,364.4 1694.6,366.2 1694.1,367.9 1694.2,369.7 1695.0,371.4 1695.4,373.1 1695.1,374.9 1695.2,376.7 1694.9,378.4 1695.5,380.2 1695.5,381.9 1695.2,383.7 1695.5,385.4 1695.4,387.2 1696.1,385.4 1696.4,383.5 1696.9,381.7 1697.5,379.9 1698.6,378.2 1698.4,376.2 1698.6,374.3 1698.5,376.1 1698.3,377.9 1699.0,379.6 1699.1,381.4 1698.6,383.3 1698.6,385.0 1699.9,386.7 1699.9,388.5 1700.1,390.3 1700.7,392.1 1700.6,393.9 1700.8,395.7 1701.0,397.5 1701.2,399.3 1701.1,401.1 1701.2,402.9 1701.5,404.7 1701.5,406.5 1701.4,408.3 1701.7,410.1 1701.2,411.9 1703.0,410.9 1704.4,409.3 1704.5,411.2 1703.9,412.9 1703.5,414.7 1702.5,416.4 1702.3,418.2 1701.9,420.0 1702.2,421.8 1702.6,423.5 1701.9,425.3 1701.8,427.1 1702.3,428.8 1702.4,430.6 1702.7,432.3 1702.2,434.1 1702.1,435.9 1702.9,437.6 1702.5,439.4 1703.2,441.0 1703.7,442.7 1704.6,444.2 1705.3,445.8 1706.4,447.2 1706.5,449.0 1706.4,450.7 1706.4,452.5 1706.7,454.3 1706.6,456.0 1706.6,457.8 1706.7,459.6 1706.9,461.3 1707.3,463.1 1707.1,464.8 1706.8,466.6 1707.7,468.4 1707.7,470.1 1707.0,471.9 1706.7,473.7 1706.7,475.4 1707.2,477.1 1707.0,478.9 1707.6,480.5 1708.1,482.2 1707.6,484.0 1708.0,485.7 1708.3,487.4 1709.1,489.1 1709.5,490.8 1709.0,492.6 1709.8,494.1 1710.3,495.8 1711.3,497.2 1710.9,499.1 1711.5,497.4 1711.6,495.5 1711.6,493.7 1711.6,491.9 1712.2,490.2 1712.9,488.4 1712.9,486.6 1712.9,484.8 1713.5,483.0 1713.9,481.1 1714.2,479.3 1714.0,477.4 1713.3,475.6 1713.5,473.7 1713.3,471.9 1713.4,470.0 1712.7,468.1 1712.8,466.3 1713.0,464.4 1712.7,462.6 1713.0,460.7 1713.3,458.9 1714.0,457.3 1714.1,455.6 1713.9,453.9 1714.7,452.3 1713.9,450.5 1713.8,448.8 1714.2,447.2 1715.3,446.0 1716.1,444.6 1716.8,446.2 1718.0,447.6 1718.2,449.3 1718.1,451.1 1718.1,452.9 1718.2,454.7 1718.2,456.5 1718.2,458.3 1718.2,460.1 1718.4,461.9 1718.4,463.6 1718.4,465.4 1718.3,467.2 1718.3,469.0 1718.4,470.8 1718.5,472.6 1718.7,474.4 1718.8,476.2 1718.7,478.0 1718.8,479.8 1718.8,481.7 1719.0,483.5 1719.1,485.3 1719.0,487.1 1719.0,488.9 1719.0,490.7 1719.2,492.5 1719.2,494.4 1719.1,496.2 1719.2,498.0 1719.4,499.8 1719.4,501.6 1719.4,503.4 1719.4,505.3 1719.5,507.1 1719.6,508.9 1719.4,510.7 1719.6,512.6 1719.6,514.4 1719.7,516.3 1719.7,518.1 1719.9,520.0 1720.0,521.8 1720.1,523.7 1720.2,525.6 1720.2,527.4 1720.3,529.3 1720.4,531.1 1720.6,533.0 1720.7,534.8 1720.7,536.7 1720.7,538.5 1720.9,540.4 1721.0,542.2 1721.2,544.0 1721.3,545.8 1721.4,547.7 1721.3,549.5 1721.5,551.3 1721.6,553.1 1721.7,555.0 1721.7,556.8" fill="none" stroke="#15245a" stroke-width="4.6" stroke-linejoin="round" stroke-linecap="round"/>
<line x1="301.2" y1="390.9" x2="1720" y2="390.9" stroke="#8fc63d" stroke-width="4.7" stroke-dasharray="14.9 20.1" stroke-dashoffset="1.7" stroke-linecap="round"/>
<line x1="301.2" y1="474.7" x2="1720" y2="474.7" stroke="#3b5988" stroke-width="4.7" stroke-dasharray="14.9 20.1" stroke-dashoffset="1.7" stroke-linecap="round"/>
<line x1="420" y1="1066" x2="475.6" y2="1066" stroke="#101f52" stroke-width="4.6" stroke-linecap="round"/>
<line x1="744" y1="1066" x2="800" y2="1066" stroke="#8fc63d" stroke-width="4.4" stroke-dasharray="15 19.8" stroke-linecap="round"/>
<line x1="1179.4" y1="1066" x2="1235" y2="1066" stroke="#3b5988" stroke-width="4.6" stroke-dasharray="15 19.8" stroke-linecap="round"/>
<g font-size="21.2" stroke="#222" stroke-width="0.4">
<text x="482.6" y="1072" textLength="202" lengthAdjust="spacingAndGlyphs">Forward 12-Month P/E</text>
<text x="805.4" y="1072" textLength="314" lengthAdjust="spacingAndGlyphs">5-Year Avg. Forward 12-Month P/E</text>
<text x="1241.2" y="1072" textLength="324.3" lengthAdjust="spacingAndGlyphs">10-Year Avg. Forward 12-Month P/E</text>
</g>
</svg></body></html>
